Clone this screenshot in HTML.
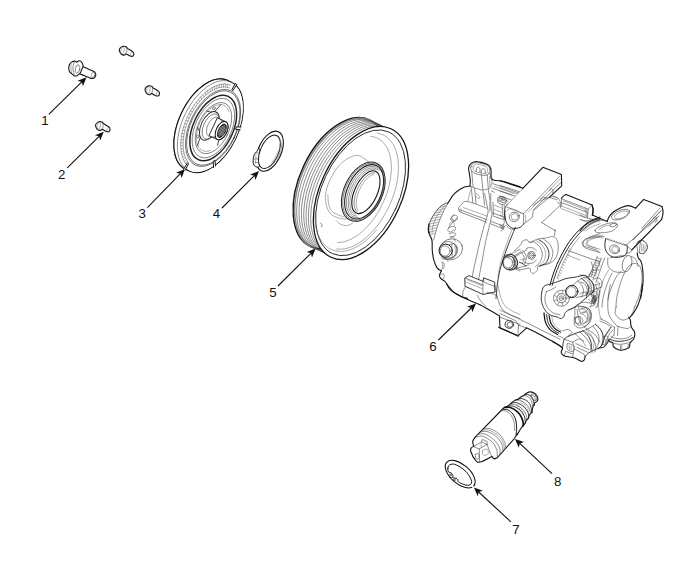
<!DOCTYPE html>
<html><head><meta charset="utf-8">
<style>
html,body{margin:0;padding:0;background:#fff;}
body{width:700px;height:583px;overflow:hidden;font-family:"Liberation Sans",sans-serif;}
svg{display:block;}
.o{fill:none;stroke:#151515;stroke-width:1.1;stroke-linecap:round;stroke-linejoin:round;}
.of{fill:#fff;stroke:#151515;stroke-width:1.1;stroke-linecap:round;stroke-linejoin:round;}
.i{fill:none;stroke:#484848;stroke-width:.62;stroke-linecap:round;stroke-linejoin:round;}
.if{fill:#fff;stroke:#484848;stroke-width:.62;stroke-linecap:round;stroke-linejoin:round;}
.t{fill:none;stroke:#666;stroke-width:.55;stroke-linecap:round;stroke-linejoin:round;}
.a{stroke:#111;stroke-width:1.1;fill:none;}
.h{fill:#111;stroke:none;}
text{font-family:"Liberation Sans",sans-serif;font-size:13.3px;fill:#111;}
</style></head><body>
<svg width="700" height="583" viewBox="0 0 700 583">
<!--LABELS-->
<g id="labels">
<text x="41.3" y="124.5">1</text>
<text x="58" y="179.4">2</text>
<text x="138.6" y="218">3</text>
<text x="212.7" y="218.4">4</text>
<text x="269.2" y="296.6">5</text>
<text x="429.2" y="351">6</text>
<text x="512.2" y="534.3">7</text>
<text x="554" y="485.6">8</text>
</g>
<!--ARROWS-->
<g id="arrows">
<line class="a" x1="48.8" y1="114.4" x2="81.8" y2="81.9"/>
<path class="h" d="M86.5 77.3L82.9 86.2L81.8 81.9L77.6 80.8Z"/>
<line class="a" x1="67.3" y1="167.8" x2="99.1" y2="136.3"/>
<path class="h" d="M103.8 131.7L100.2 140.6L99.1 136.3L94.9 135.2Z"/>
<line class="a" x1="147.4" y1="207.6" x2="180.4" y2="173.7"/>
<path class="h" d="M185.0 169.0L181.6 178.0L180.4 173.7L176.1 172.7Z"/>
<line class="a" x1="222.0" y1="208.0" x2="254.3" y2="175.7"/>
<path class="h" d="M259.0 171.0L255.5 179.9L254.3 175.7L250.1 174.5Z"/>
<line class="a" x1="278.0" y1="286.0" x2="310.9" y2="253.3"/>
<path class="h" d="M315.6 248.6L312.0 257.5L310.9 253.3L306.7 252.1Z"/>
<line class="a" x1="438.4" y1="340.0" x2="471.3" y2="308.0"/>
<path class="h" d="M476.0 303.4L472.3 312.3L471.3 308.0L467.0 306.8Z"/>
<line class="a" x1="510.8" y1="521.8" x2="478.7" y2="492.0"/>
<path class="h" d="M473.9 487.5L482.9 490.7L478.7 492.0L477.8 496.3Z"/>
<line class="a" x1="552.0" y1="473.6" x2="519.8" y2="443.4"/>
<path class="h" d="M515.0 438.9L524.0 442.1L519.8 443.4L518.8 447.7Z"/>
</g>
<!--PARTS-->
<!-- bolt1 -->
<path class="of" d="M82.9 66.5C83.9 67 87 68.4 88.8 69.2C90.6 70 92.8 70.8 93.9 71.4C95 72.1 95.1 72.3 95.4 73C95.7 73.7 95.9 74.7 95.7 75.5C95.4 76.4 94.6 77.6 93.9 78.1C93.1 78.5 92.8 78.7 91.3 78.4C89.9 78.1 87.3 76.8 85.2 76C83.1 75.2 79.9 74 78.9 73.6"/>
<ellipse class="t" cx="93" cy="75" rx="1.6" ry="2.9" transform="rotate(20 93 75)"/>
<path class="of" d="M68.8 68.7C68.7 67.5 68.8 66.2 69.2 65.1C69.7 64 70.6 62.7 71.5 62.1C72.5 61.4 73.9 61.1 74.8 61.1C75.6 61.1 76 62.1 76.7 62.1C77.4 62 78.1 60.8 78.9 60.8C79.7 60.8 80.9 61.3 81.6 62.1C82.3 62.8 82.7 64.2 82.9 65.1C83.1 66 83 66.8 82.8 67.6C82.6 68.4 82 68.9 81.6 69.8C81.2 70.6 81 71.9 80.5 72.7C80.1 73.4 79.4 73.6 78.9 74.1C78.3 74.6 77.9 75.4 77.1 75.7C76.4 76 75.3 76.2 74.4 75.9C73.5 75.6 72.7 74.5 71.9 73.9C71.1 73.2 70.2 72.8 69.7 71.9C69.2 71.1 68.9 69.8 68.8 68.7Z"/>
<ellipse class="i" cx="77.5" cy="69" rx="2.2" ry="4.2" transform="rotate(12 77.5 69)"/>
<path class="i" d="M74.8 61.5C74.5 62.1 73.6 63.8 73.3 65.1C73 66.4 72.8 67.7 73 69.4C73.1 71.1 74.2 74.5 74.4 75.5"/>
<path class="t" d="M71.5 62.2C71.4 62.9 70.8 64.8 70.8 66.5C70.8 68.2 71.4 71.3 71.5 72.3"/>
<!-- small bolt -->
<path class="of" d="M119.4 50.8C119.1 49.7 119.5 48.9 120.1 48.1C120.7 47.4 121.8 46.5 122.8 46.3C123.8 46.1 125.2 46.4 126 46.7C126.8 47.1 126.5 47.5 127.6 48.4C128.8 49.2 131.9 50.9 132.9 51.8C133.9 52.7 133.9 53.2 133.8 54C133.8 54.8 133.2 56 132.6 56.3C132 56.7 131.3 56.5 130.2 56.1C129.1 55.7 126.9 54.2 126 54C125.1 53.8 125.4 54.9 124.7 55C124 55.1 122.6 55.2 121.7 54.5C120.8 53.8 119.7 51.9 119.4 50.8Z"/>
<path class="i" d="M126.1 47.3C126.2 47.3 126.4 47.5 126.5 47.6C126.6 47.8 126.7 47.9 126.7 48.1C126.8 48.3 126.9 48.5 126.9 48.8C127 49 127 49.2 127 49.5C127 49.8 127 50 126.9 50.3C126.9 50.6 126.9 50.9 126.8 51.2C126.7 51.4 126.7 51.7 126.6 52C126.5 52.2 126.4 52.5 126.2 52.8C126.1 53 126 53.2 125.8 53.4C125.7 53.6 125.5 53.8 125.4 54C125.2 54.2 125.1 54.3 124.9 54.4C124.8 54.5 124.6 54.6 124.4 54.6C124.3 54.7 124.1 54.7 124 54.7C123.8 54.7 123.7 54.6 123.6 54.6C123.4 54.5 123.3 54.3 123.2 54.3"/>
<path class="t" d="M124.1 50.9C124.1 51 124 51.4 123.9 51.6C123.9 51.8 123.8 52 123.7 52.2C123.6 52.4 123.5 52.5 123.3 52.7C123.2 52.9 123.1 53 123 53.1C122.9 53.3 122.8 53.4 122.6 53.5C122.5 53.6 122.4 53.6 122.3 53.7C122.1 53.7 122 53.7 121.9 53.7C121.8 53.7 121.7 53.7 121.6 53.6C121.5 53.6 121.4 53.5 121.3 53.4C121.2 53.3 121.2 53.2 121.1 53.1C121 52.9 121 52.8 120.9 52.6C120.9 52.4 120.9 52.2 120.8 52C120.8 51.8 120.8 51.6 120.8 51.4C120.9 51.2 120.9 51 120.9 50.8C120.9 50.5 121 50.3 121.1 50.1C121.1 49.9 121.2 49.6 121.3 49.4C121.3 49.2 121.4 49 121.5 48.8C121.6 48.6 121.7 48.5 121.9 48.3C122 48.1 122.1 48 122.2 47.9C122.3 47.7 122.4 47.6 122.6 47.5C122.7 47.4 122.8 47.4 122.9 47.3C123.1 47.3 123.2 47.3 123.3 47.3C123.4 47.3 123.5 47.3 123.6 47.4C123.7 47.4 123.8 47.5 123.9 47.6C124 47.7 124 47.8 124.1 47.9C124.2 48.1 124.2 48.2 124.3 48.4C124.3 48.6 124.3 48.8 124.4 49C124.4 49.2 124.4 49.4 124.4 49.6C124.3 49.8 124.3 50 124.3 50.2C124.3 50.5 124.2 50.8 124.1 50.9"/>
<path class="t" d="M131.1 55.8C131.1 55.8 131 55.7 130.9 55.7C130.9 55.6 130.8 55.6 130.8 55.5C130.8 55.4 130.7 55.3 130.7 55.2C130.7 55.1 130.7 55 130.6 54.9C130.6 54.8 130.6 54.7 130.6 54.5C130.7 54.4 130.7 54.3 130.7 54.2C130.7 54 130.8 53.9 130.8 53.8C130.8 53.6 130.9 53.5 130.9 53.4C131 53.2 131.1 53.1 131.1 53C131.2 52.9 131.3 52.8 131.3 52.7C131.4 52.6 131.5 52.5 131.6 52.4C131.6 52.3 131.7 52.2 131.8 52.2C131.9 52.1 132 52.1 132 52C132.1 52 132.2 52 132.3 52C132.3 52 132.4 52 132.5 52"/>
<!-- small bolt -->
<path class="of" d="M145.1 90.4C144.8 89.3 145.2 88.5 145.8 87.7C146.4 87 147.5 86.1 148.5 85.9C149.5 85.7 150.9 86 151.7 86.3C152.5 86.6 152.2 87.2 153.3 88C154.5 88.8 157.6 90.5 158.6 91.4C159.6 92.3 159.6 92.9 159.5 93.6C159.4 94.4 158.9 95.6 158.3 95.9C157.7 96.2 157 96.1 155.9 95.7C154.8 95.3 152.6 93.8 151.7 93.6C150.8 93.4 151.1 94.5 150.4 94.6C149.7 94.7 148.3 94.8 147.4 94.1C146.5 93.4 145.4 91.5 145.1 90.4Z"/>
<path class="i" d="M151.8 86.9C151.9 86.9 152.1 87.1 152.2 87.2C152.3 87.4 152.4 87.5 152.4 87.7C152.5 87.9 152.6 88.1 152.6 88.4C152.7 88.6 152.7 88.8 152.7 89.1C152.7 89.4 152.7 89.6 152.6 89.9C152.6 90.2 152.6 90.5 152.5 90.8C152.4 91 152.4 91.3 152.3 91.6C152.2 91.8 152.1 92.1 151.9 92.4C151.8 92.6 151.7 92.8 151.5 93C151.4 93.2 151.2 93.4 151.1 93.6C150.9 93.8 150.8 93.9 150.6 94C150.5 94.1 150.3 94.2 150.1 94.2C150 94.3 149.8 94.3 149.7 94.3C149.5 94.3 149.4 94.2 149.3 94.2C149.1 94.1 149 93.9 148.9 93.9"/>
<path class="t" d="M149.8 90.5C149.8 90.6 149.7 91 149.6 91.2C149.6 91.4 149.5 91.6 149.4 91.8C149.3 92 149.2 92.1 149 92.3C148.9 92.5 148.8 92.6 148.7 92.7C148.6 92.9 148.5 93 148.3 93.1C148.2 93.2 148.1 93.2 148 93.3C147.8 93.3 147.7 93.3 147.6 93.3C147.5 93.3 147.4 93.3 147.3 93.2C147.2 93.2 147.1 93.1 147 93C146.9 92.9 146.9 92.8 146.8 92.7C146.7 92.5 146.7 92.4 146.6 92.2C146.6 92 146.6 91.8 146.5 91.6C146.5 91.4 146.5 91.2 146.5 91C146.6 90.8 146.6 90.6 146.6 90.4C146.6 90.1 146.7 89.9 146.8 89.7C146.8 89.5 146.9 89.2 147 89C147 88.8 147.1 88.6 147.2 88.4C147.3 88.2 147.4 88.1 147.6 87.9C147.7 87.7 147.8 87.6 147.9 87.5C148 87.3 148.1 87.2 148.3 87.1C148.4 87 148.5 87 148.6 86.9C148.8 86.9 148.9 86.9 149 86.9C149.1 86.9 149.2 86.9 149.3 87C149.4 87 149.5 87.1 149.6 87.2C149.7 87.3 149.7 87.4 149.8 87.5C149.9 87.7 149.9 87.8 150 88C150 88.2 150 88.4 150.1 88.6C150.1 88.8 150.1 89 150.1 89.2C150 89.4 150 89.6 150 89.8C150 90.1 149.9 90.4 149.8 90.5"/>
<path class="t" d="M156.8 95.4C156.8 95.4 156.7 95.3 156.6 95.3C156.6 95.2 156.5 95.2 156.5 95.1C156.5 95 156.4 94.9 156.4 94.8C156.4 94.7 156.4 94.6 156.3 94.5C156.3 94.4 156.3 94.3 156.3 94.1C156.4 94 156.4 93.9 156.4 93.8C156.4 93.6 156.5 93.5 156.5 93.4C156.5 93.2 156.6 93.1 156.6 93C156.7 92.8 156.8 92.7 156.8 92.6C156.9 92.5 157 92.4 157 92.3C157.1 92.2 157.2 92.1 157.3 92C157.3 91.9 157.4 91.8 157.5 91.8C157.6 91.7 157.7 91.7 157.7 91.6C157.8 91.6 157.9 91.6 158 91.6C158 91.6 158.1 91.6 158.2 91.6"/>
<!-- small bolt -->
<path class="of" d="M95.6 126.2C95.3 125.1 95.7 124.2 96.3 123.5C96.9 122.8 98 121.9 99 121.7C100 121.5 101.4 121.8 102.2 122.1C103 122.4 102.7 122.9 103.8 123.8C105 124.7 108.1 126.3 109.1 127.2C110.1 128.1 110 128.7 110 129.4C110 130.2 109.4 131.3 108.8 131.7C108.2 132 107.5 131.9 106.4 131.5C105.3 131.1 103.1 129.6 102.2 129.4C101.3 129.2 101.6 130.3 100.9 130.4C100.2 130.5 98.8 130.6 97.9 129.9C97 129.2 95.9 127.3 95.6 126.2Z"/>
<path class="i" d="M102.3 122.7C102.4 122.7 102.6 122.9 102.7 123C102.8 123.2 102.9 123.3 102.9 123.5C103 123.7 103.1 123.9 103.1 124.2C103.2 124.4 103.2 124.6 103.2 124.9C103.2 125.2 103.2 125.4 103.1 125.7C103.1 126 103.1 126.3 103 126.6C102.9 126.8 102.9 127.1 102.8 127.4C102.7 127.6 102.6 127.9 102.4 128.2C102.3 128.4 102.2 128.6 102 128.8C101.9 129 101.7 129.2 101.6 129.4C101.4 129.6 101.3 129.7 101.1 129.8C101 129.9 100.8 130 100.6 130C100.5 130.1 100.3 130.1 100.2 130.1C100 130.1 99.9 130 99.8 130C99.6 129.9 99.5 129.7 99.4 129.7"/>
<path class="t" d="M100.3 126.3C100.3 126.4 100.2 126.8 100.1 127C100.1 127.2 100 127.4 99.9 127.6C99.8 127.8 99.7 127.9 99.5 128.1C99.4 128.3 99.3 128.4 99.2 128.5C99.1 128.7 99 128.8 98.8 128.9C98.7 129 98.6 129 98.5 129.1C98.3 129.1 98.2 129.1 98.1 129.1C98 129.1 97.9 129.1 97.8 129C97.7 129 97.6 128.9 97.5 128.8C97.4 128.7 97.4 128.6 97.3 128.5C97.2 128.3 97.2 128.2 97.1 128C97.1 127.8 97.1 127.6 97 127.4C97 127.2 97 127 97 126.8C97.1 126.6 97.1 126.4 97.1 126.2C97.1 125.9 97.2 125.7 97.3 125.5C97.3 125.3 97.4 125 97.5 124.8C97.5 124.6 97.6 124.4 97.7 124.2C97.8 124 97.9 123.9 98.1 123.7C98.2 123.5 98.3 123.4 98.4 123.3C98.5 123.1 98.6 123 98.8 122.9C98.9 122.8 99 122.8 99.1 122.7C99.3 122.7 99.4 122.7 99.5 122.7C99.6 122.7 99.7 122.7 99.8 122.8C99.9 122.8 100 122.9 100.1 123C100.2 123.1 100.2 123.2 100.3 123.3C100.4 123.5 100.4 123.6 100.5 123.8C100.5 124 100.5 124.2 100.6 124.4C100.6 124.6 100.6 124.8 100.6 125C100.5 125.2 100.5 125.4 100.5 125.6C100.5 125.9 100.4 126.2 100.3 126.3"/>
<path class="t" d="M107.3 131.2C107.3 131.2 107.2 131.1 107.1 131.1C107.1 131 107 131 107 130.9C107 130.8 106.9 130.7 106.9 130.6C106.9 130.5 106.9 130.4 106.8 130.3C106.8 130.2 106.8 130.1 106.8 129.9C106.9 129.8 106.9 129.7 106.9 129.6C106.9 129.4 107 129.3 107 129.2C107 129 107.1 128.9 107.1 128.8C107.2 128.6 107.3 128.5 107.3 128.4C107.4 128.3 107.5 128.2 107.5 128.1C107.6 128 107.7 127.9 107.8 127.8C107.8 127.7 107.9 127.6 108 127.6C108.1 127.5 108.2 127.5 108.2 127.4C108.3 127.4 108.4 127.4 108.5 127.4C108.5 127.4 108.6 127.4 108.7 127.4"/>
<!-- disc -->
<ellipse class="of" cx="206.9" cy="125" rx="28.1" ry="49.2" transform="rotate(25.4 206.9 125)"/>
<ellipse class="of" cx="210.3" cy="126.6" rx="28.1" ry="49.2" transform="rotate(25.4 210.3 126.6)"/>
<path class="of" d="M183.6 168.3C182.9 167.5 180.5 165.7 179.3 164C178 162.3 176.9 160.3 176.1 158.1C175.3 155.8 174.7 153.3 174.3 150.7C173.9 148 173.8 145.1 173.9 142.1C174 139.2 174.4 136 175 132.9C175.6 129.7 176.4 126.5 177.4 123.3C178.5 120.1 179.7 116.8 181.2 113.7C182.6 110.6 184.2 107.5 186 104.7C187.8 101.8 189.8 99 191.8 96.5C193.8 94 196 91.7 198.2 89.6C200.4 87.6 202.8 85.7 205 84.2C207.3 82.7 209.7 81.5 211.9 80.6C214.2 79.8 216.5 79.2 218.6 79C220.7 78.8 222.8 78.9 224.8 79.4C226.7 79.8 229.2 81.3 230.1 81.7"/>
<path d="M235.3 138.5C234.7 139.6 233 143 231.7 145.2C230.5 147.3 229.1 149.4 227.6 151.4C226.2 153.4 224.7 155.3 223.1 157.1C221.6 158.8 219.9 160.5 218.3 162C216.6 163.4 215 164.8 213.3 166C211.6 167.2 209.9 168.2 208.2 169C206.5 169.9 204.8 170.5 203.1 171C201.5 171.5 199.8 171.8 198.2 171.9C196.7 172.1 195.1 172 193.7 171.7C192.2 171.5 190.8 171 189.5 170.4C188.2 169.8 187 169 185.9 168C184.7 167.1 183.7 165.9 182.8 164.6C181.9 163.3 181.1 161.9 180.4 160.3C179.8 158.7 179.2 156.9 178.8 155.1C178.4 153.2 178.1 151.3 177.9 149.2C177.8 147.2 177.8 145 177.9 142.8C178 140.6 178.2 138.3 178.6 135.9C179 133.6 179.5 131.2 180.1 128.9C180.8 126.5 181.5 124.1 182.4 121.8C183.3 119.4 184.3 117 185.3 114.8C186.4 112.5 187.6 110.2 188.9 108C190.2 105.9 191.6 103.8 193 101.8C194.4 99.8 196 97.9 197.5 96.2C199.1 94.4 200.7 92.8 202.3 91.3C204 89.8 205.7 88.4 207.4 87.3C209.1 86.1 210.8 85 212.5 84.2C214.2 83.4 215.9 82.7 217.5 82.2C219.2 81.7 220.8 81.4 222.4 81.3C224 81.2 225.5 81.2 227 81.5C228.4 81.7 229.8 82.2 231.1 82.8C232.4 83.4 233.7 84.2 234.8 85.2C235.9 86.2 236.9 87.3 237.8 88.6C238.7 89.9 239.5 91.4 240.2 93C240.9 94.5 241.4 96.3 241.8 98.1C242.2 100 242.5 102 242.7 104C242.8 106.1 242.9 108.2 242.7 110.5C242.6 112.7 242.4 115 242 117.3C241.6 119.6 241.1 122 240.5 124.4C239.9 126.7 239.1 129.1 238.2 131.5C237.4 133.8 235.8 137.3 235.3 138.5C234.8 139.6 235.9 137.4 235.3 138.5Z" fill="#fff" stroke="none"/>
<path class="i" d="M188.3 170.7C187.5 170 185 168.4 183.7 166.9C182.3 165.3 181.2 163.4 180.2 161.3C179.3 159.2 178.5 156.8 178.1 154.3C177.6 151.7 177.3 148.9 177.3 146C177.3 143.1 177.5 140 178 136.9C178.5 133.8 179.2 130.5 180.1 127.3C181 124.1 182.2 120.8 183.5 117.7C184.9 114.6 186.4 111.4 188.1 108.5C189.8 105.6 191.7 102.7 193.7 100.1C195.7 97.5 197.8 95 200 92.8C202.2 90.7 204.5 88.7 206.7 87C209 85.4 211.4 84 213.6 83C215.9 82 218.2 81.2 220.4 80.9C222.6 80.5 224.7 80.4 226.7 80.7C228.7 81 231.4 82.3 232.3 82.6"/>
<path class="t" d="M186.3 164.7C185.8 163.8 183.9 161.2 183.1 159.1C182.2 157 181.6 154.5 181.2 151.9C180.8 149.4 180.6 146.5 180.7 143.6C180.8 140.7 181.1 137.6 181.7 134.6C182.3 131.5 183.1 128.2 184.2 125.1C185.2 122 186.5 118.8 187.9 115.8C189.4 112.8 191 109.8 192.8 107C194.6 104.2 196.6 101.6 198.6 99.2C200.7 96.8 202.8 94.6 205 92.7C207.2 90.8 209.5 89.2 211.8 87.9C214 86.6 216.3 85.6 218.5 84.9C220.7 84.3 222.9 83.9 224.9 84C226.9 84 229.7 84.9 230.7 85.1"/>
<path class="t" d="M188.3 162.4C187.8 161.6 186.1 159.2 185.3 157.2C184.5 155.2 183.9 152.9 183.5 150.5C183.1 148.1 183 145.5 183.1 142.7C183.2 140 183.5 137.1 184 134.3C184.6 131.4 185.4 128.4 186.3 125.4C187.3 122.5 188.5 119.5 189.8 116.7C191.2 113.9 192.7 111.1 194.4 108.5C196.1 105.9 197.9 103.4 199.8 101.2C201.7 98.9 203.8 96.9 205.8 95.1C207.9 93.3 210 91.8 212.1 90.6C214.2 89.4 216.4 88.4 218.4 87.8C220.5 87.2 222.5 86.9 224.4 87C226.3 87 228.9 87.8 229.8 88"/>
<path class="t" d="M187.5 161.3L185.4 163.5"/>
<path class="t" d="M186.4 159.5L184.3 161.6"/>
<path class="t" d="M185.4 157.5L183.2 159.5"/>
<path class="t" d="M184.6 155.4L182.4 157.1"/>
<path class="t" d="M184 153L181.7 154.6"/>
<path class="t" d="M183.5 150.6L181.2 152"/>
<path class="t" d="M183.2 147.9L180.8 149.2"/>
<path class="t" d="M183.1 145.2L180.7 146.3"/>
<path class="t" d="M183.1 142.4L180.7 143.2"/>
<path class="t" d="M183.3 139.4L180.9 140.1"/>
<path class="t" d="M183.7 136.4L181.3 136.9"/>
<path class="t" d="M184.2 133.4L181.9 133.6"/>
<path class="t" d="M184.9 130.3L182.7 130.3"/>
<path class="t" d="M185.8 127.2L183.6 127"/>
<path class="t" d="M186.8 124.1L184.7 123.7"/>
<path class="t" d="M187.9 121L185.9 120.4"/>
<path class="t" d="M189.3 118L187.3 117.1"/>
<path class="t" d="M190.7 115L188.9 113.9"/>
<path class="t" d="M192.3 112L190.5 110.8"/>
<path class="t" d="M193.9 109.2L192.3 107.8"/>
<path class="t" d="M195.7 106.5L194.2 104.9"/>
<path class="t" d="M197.6 103.9L196.3 102.1"/>
<path class="t" d="M199.6 101.4L198.4 99.5"/>
<path class="t" d="M201.6 99.1L200.6 97"/>
<path class="t" d="M203.8 97L202.8 94.7"/>
<path class="t" d="M205.9 95L205.1 92.6"/>
<path class="t" d="M208.1 93.3L207.5 90.7"/>
<path class="t" d="M210.3 91.7L209.8 89.1"/>
<path class="t" d="M212.5 90.4L212.2 87.6"/>
<path class="t" d="M214.8 89.2L214.6 86.4"/>
<path class="t" d="M217 88.3L216.9 85.4"/>
<path class="t" d="M219.1 87.6L219.3 84.7"/>
<path class="t" d="M221.3 87.2L221.6 84.2"/>
<path class="t" d="M223.4 87L223.8 84"/>
<path class="t" d="M225.4 87L225.9 84"/>
<path class="t" d="M227.3 87.3L228 84.3"/>
<ellipse class="i" cx="213.1" cy="127.9" rx="23.5" ry="41.2" transform="rotate(25.4 213.1 127.9)" style="stroke:#333"/>
<ellipse class="i" cx="213.3" cy="128" rx="22.7" ry="39.8" transform="rotate(25.4 213.3 128)" style="stroke:#333"/>
<ellipse class="o" cx="213.2" cy="128" rx="19.9" ry="35" transform="rotate(25.4 213.2 128)" style="stroke-width:1.5;stroke:#222"/>
<ellipse class="i" cx="213.4" cy="128.1" rx="18.1" ry="31.8" transform="rotate(25.4 213.4 128.1)"/>
<ellipse class="i" cx="213.5" cy="128.1" rx="15.5" ry="27.3" transform="rotate(25.4 213.5 128.1)"/>
<path class="t" d="M210.3 150.6C209.7 150.7 208 151.2 206.9 151.3C205.8 151.4 204.8 151.3 203.8 151C202.8 150.8 201.9 150.4 201.1 149.8C200.3 149.2 199.6 148.4 198.9 147.5C198.3 146.6 197.8 145.6 197.4 144.4C197 143.3 196.7 142 196.5 140.6C196.4 139.3 196.3 137.8 196.4 136.3C196.5 134.8 196.7 133.1 197 131.5C197.3 129.9 197.8 128.3 198.3 126.7C198.8 125 199.5 123.4 200.2 121.8C201 120.3 201.8 118.7 202.8 117.3C203.7 115.8 204.7 114.4 205.7 113.2C206.8 111.9 207.9 110.7 209 109.7C210.1 108.7 211.3 107.8 212.5 107.1C213.6 106.3 214.8 105.7 216 105.3C217.1 104.9 218.3 104.7 219.3 104.6C220.4 104.5 221.5 104.6 222.4 104.8C223.4 105.1 224.3 105.5 225.1 106.1C225.9 106.7 226.7 107.5 227.3 108.4C227.9 109.2 228.6 110.9 228.8 111.4"/>
<path class="of" d="M235.5 83.3L231.8 89.7L232.9 90.7L236.8 84.4" style="stroke-width:1"/>
<path class="of" d="M241 127L236.4 126.9L235.6 129.3L240.1 129.8" style="stroke-width:1"/>
<path class="of" d="M215.6 166L214.8 160.1L213.1 161.4L213.6 167.5" style="stroke-width:1"/>
<path class="of" d="M185.1 170.3L188.6 163.7L187.5 162.8L183.7 169.2" style="stroke-width:1"/>
<path class="i" d="M206.9 111.1L213.6 112.8L221 104.4" style="stroke:#222;stroke-width:.8"/>
<ellipse class="i" cx="213.9" cy="108.4" rx="1.2" ry="1.6" transform="rotate(25.4 213.9 108.4)"/>
<path class="i" d="M197.5 145.6L201.3 134.4L197.5 127.7" style="stroke:#222;stroke-width:.8"/>
<ellipse class="i" cx="197.9" cy="136.4" rx="1.2" ry="1.6" transform="rotate(25.4 197.9 136.4)"/>
<path class="i" d="M228.1 127L220.3 134L217.6 145.2" style="stroke:#222;stroke-width:.8"/>
<ellipse class="i" cx="222.6" cy="135.8" rx="1.2" ry="1.6" transform="rotate(25.4 222.6 135.8)"/>
<ellipse class="if" cx="209.4" cy="125.9" rx="8.2" ry="15.4" transform="rotate(25.4 209.4 125.9)" style="stroke:#222;stroke-width:.9"/>
<ellipse class="i" cx="210.8" cy="126.6" rx="7.2" ry="13.6" transform="rotate(25.4 210.8 126.6)"/>
<path class="of" d="M217.7 118L225.8 121.7L225.8 121.7L226.9 122.6L227.7 124.1L228 126L227.9 128.2L227.4 130.5L226.5 132.9L225.2 135.1L223.7 137L222.1 138.5L220.4 139.4L218.8 139.8L217.4 139.5L217.4 139.5L209.3 135.8Z" style="stroke-width:.9"/>
<path class="i" d="M219.8 118.9C220 119.1 220.5 119.3 220.7 119.6C221 119.9 221.2 120.3 221.4 120.7C221.6 121.1 221.8 121.5 221.9 122C222 122.5 222 123 222 123.6C222 124.2 222 124.8 221.9 125.4C221.8 126 221.7 126.6 221.5 127.3C221.4 127.9 221.1 128.6 220.9 129.2C220.6 129.8 220.3 130.4 220 131C219.7 131.6 219.3 132.2 218.9 132.7C218.6 133.3 218.1 133.8 217.7 134.2C217.3 134.7 216.9 135.1 216.4 135.4C216 135.8 215.5 136.1 215.1 136.3C214.6 136.6 214.2 136.7 213.7 136.8C213.3 136.9 212.9 137 212.5 136.9C212.1 136.9 211.6 136.7 211.4 136.7"/>
<path class="i" d="M221.2 119.6C221.4 119.8 221.9 120 222.1 120.3C222.4 120.6 222.6 121 222.8 121.4C223 121.8 223.2 122.2 223.3 122.7C223.4 123.2 223.4 123.7 223.4 124.3C223.4 124.9 223.4 125.5 223.3 126.1C223.2 126.7 223.1 127.3 222.9 128C222.8 128.6 222.5 129.3 222.3 129.9C222 130.5 221.7 131.1 221.4 131.7C221.1 132.3 220.7 132.9 220.3 133.4C220 134 219.5 134.5 219.1 134.9C218.7 135.4 218.3 135.8 217.8 136.1C217.4 136.5 216.9 136.8 216.5 137C216 137.3 215.6 137.4 215.1 137.5C214.7 137.6 214.3 137.7 213.9 137.6C213.5 137.6 213 137.4 212.8 137.4"/>
<path class="i" d="M209 136.5C208.8 136.4 208.2 136 207.9 135.7C207.6 135.4 207.4 135 207.2 134.6C207 134.2 206.8 133.7 206.7 133.2C206.6 132.6 206.5 132 206.5 131.4C206.5 130.8 206.5 130.2 206.6 129.5C206.7 128.8 206.8 128.1 207 127.5C207.2 126.8 207.4 126.1 207.7 125.4C208 124.7 208.3 124 208.7 123.4C209 122.7 209.4 122.1 209.8 121.5C210.3 121 210.7 120.4 211.2 119.9C211.6 119.4 212.1 119 212.6 118.6C213.1 118.2 213.6 117.9 214 117.7C214.5 117.4 215 117.2 215.5 117.1C216 117 216.4 117 216.8 117C217.3 117 217.8 117.3 218 117.3"/>
<ellipse class="of" cx="221.6" cy="130.6" rx="5.4" ry="9.8" transform="rotate(25.4 221.6 130.6)" style="stroke-width:1"/>
<ellipse class="of" cx="221.9" cy="130.8" rx="3.5" ry="7.3" transform="rotate(25.4 221.9 130.8)" style="fill:#2a2a2a;stroke-width:.8"/>
<path d="M221.3 126.3L218.1 133.2" stroke="#e8e8e8" stroke-width=".5" fill="none"/>
<path d="M223 125.6L218.6 135" stroke="#e8e8e8" stroke-width=".5" fill="none"/>
<path d="M224.7 124.8L219.1 136.8" stroke="#e8e8e8" stroke-width=".5" fill="none"/>
<path d="M225.2 126.6L220.8 136" stroke="#e8e8e8" stroke-width=".5" fill="none"/>
<path d="M225.7 128.4L222.5 135.3" stroke="#e8e8e8" stroke-width=".5" fill="none"/>
<!-- snapring -->
<ellipse class="of" cx="269.8" cy="151.2" rx="11.5" ry="21.3" transform="rotate(23.7 269.8 151.2)"/>
<path class="of" d="M258.7 148.3C258.2 148.5 257.4 150.6 256.7 151.6C255.9 152.6 255 153 254.4 154.3C253.9 155.6 253.3 157.5 253.2 159.3C253.1 161.1 253.1 163.8 253.9 165.1C254.7 166.5 256.9 167.2 257.9 167.2C258.8 167.2 259.5 166.9 259.8 165.3C260 163.7 259.4 160 259.4 157.6C259.5 155.2 260.1 152.3 260 150.7C259.9 149.2 259.3 148.2 258.7 148.3Z" style="stroke-width:1"/>
<ellipse class="of" cx="269.4" cy="151.8" rx="9.1" ry="17.8" transform="rotate(23.5 269.4 151.8)" style="stroke-width:.9"/>
<path class="i" d="M256.1 153.3C256.4 153.2 257.4 152.5 257.9 152.6C258.3 152.8 258.6 153.9 258.7 154.2"/>
<path class="i" d="M254.6 159.3C255 159.2 256.4 158.5 257 158.6C257.6 158.8 258.2 159.9 258.4 160.2"/>
<path class="i" d="M255.1 162.7C255.5 162.7 256.6 162.2 257.2 162.4C257.8 162.5 258.3 163.4 258.6 163.6"/>
<path class="t" d="M256 155L255.5 162.7"/>
<path class="t" d="M278.6 150.7L279.6 151.1"/>
<path class="t" d="M277.8 152.1L278.9 152.4"/>
<path class="t" d="M277.1 153.5L278.1 153.8"/>
<path class="t" d="M276.3 154.8L277.3 155.2"/>
<path class="t" d="M275.5 156.2L276.6 156.6"/>
<path class="t" d="M274.8 157.6L275.8 157.9"/>
<path class="t" d="M274 159L275 159.3"/>
<path class="t" d="M273.2 160.3L274.2 160.7"/>
<path class="t" d="M272.4 161.7L273.5 162"/>
<path class="t" d="M271.7 163.1L272.7 163.4"/>
<path class="t" d="M279 137C279.3 137.9 280.6 140.3 281 142.2C281.4 144 281.6 146 281.4 148.2C281.1 150.3 280.4 152.7 279.3 155C278.2 157.3 276.6 159.9 275 161.9C273.4 163.9 270.7 166.2 269.9 167"/>
<!-- pulley -->
<ellipse class="of" cx="340" cy="183.2" rx="40.2" ry="69.8" transform="rotate(25 340 183.2)" style="stroke-width:1.5"/>
<path class="t" d="M315.2 248.4C313.9 247.8 309.8 246.3 307.5 244.5C305.2 242.7 303.1 240.4 301.4 237.8C299.7 235.1 298.2 232 297.1 228.6C296 225.2 295.3 221.4 294.9 217.4C294.5 213.4 294.4 209 294.8 204.6C295.1 200.2 295.8 195.5 296.8 190.8C297.8 186.2 299.2 181.4 300.9 176.8C302.6 172.2 304.6 167.5 306.9 163.1C309.1 158.6 311.7 154.3 314.4 150.3C317.1 146.3 320.1 142.5 323.2 139.1C326.3 135.7 329.6 132.5 332.8 129.9C336.1 127.3 339.5 125 342.9 123.2C346.2 121.4 349.6 120.1 352.8 119.3C356.1 118.5 359.3 118.2 362.3 118.4C365.2 118.6 368.1 119.3 370.7 120.5C373.3 121.7 376.7 124.7 377.9 125.5" style="stroke:#888;stroke-width:1.6"/>
<path class="i" d="M320.8 250.1C319.4 249.7 315.2 248.8 312.7 247.5C310.2 246.1 308 244.3 306 242.1C304 239.9 302.3 237.2 301 234.2C299.6 231.1 298.5 227.7 297.8 224C297.1 220.4 296.7 216.4 296.6 212.2C296.6 208.1 296.9 203.6 297.5 199.2C298.2 194.7 299.2 190.1 300.5 185.5C301.8 180.9 303.4 176.3 305.3 171.8C307.2 167.3 309.5 162.8 311.9 158.7C314.3 154.5 317 150.4 319.8 146.7C322.6 143 325.7 139.5 328.8 136.4C331.9 133.3 335.1 130.5 338.4 128.2C341.6 125.9 345 124 348.2 122.6C351.5 121.2 354.8 120.2 357.9 119.7C361 119.2 364 119.2 366.9 119.7C369.7 120.1 372.4 121.1 374.9 122.5C377.3 123.9 380.3 127.2 381.4 128.1" style="stroke:#484848;stroke-width:.64"/>
<path class="i" d="M323.1 251.2C321.8 250.8 317.5 249.9 315.1 248.6C312.6 247.2 310.3 245.4 308.4 243.2C306.4 241 304.7 238.3 303.3 235.3C301.9 232.2 300.9 228.8 300.1 225.1C299.4 221.5 299 217.5 299 213.3C298.9 209.2 299.3 204.7 299.9 200.3C300.5 195.8 301.6 191.2 302.9 186.6C304.1 182 305.8 177.4 307.7 172.9C309.6 168.4 311.8 163.9 314.2 159.8C316.6 155.6 319.3 151.5 322.1 147.8C325 144.1 328 140.6 331.1 137.5C334.2 134.4 337.5 131.6 340.7 129.3C344 127 347.3 125.1 350.6 123.7C353.8 122.3 357.1 121.3 360.2 120.8C363.3 120.3 366.4 120.3 369.2 120.8C372.1 121.2 374.8 122.2 377.2 123.6C379.6 125 382.7 128.3 383.8 129.2" style="stroke:#484848;stroke-width:.64"/>
<path class="i" d="M325.5 252.3C324.2 251.9 319.9 251 317.5 249.7C315 248.4 312.7 246.5 310.8 244.3C308.8 242.1 307.1 239.4 305.7 236.4C304.3 233.4 303.3 229.9 302.5 226.3C301.8 222.6 301.4 218.6 301.4 214.4C301.4 210.3 301.7 205.8 302.3 201.4C303 196.9 304 192.3 305.3 187.7C306.6 183.1 308.2 178.5 310.1 174C312 169.5 314.2 165.1 316.6 160.9C319 156.7 321.7 152.6 324.5 148.9C327.4 145.2 330.4 141.7 333.5 138.6C336.6 135.5 339.9 132.8 343.1 130.5C346.4 128.2 349.7 126.2 353 124.8C356.2 123.4 359.5 122.4 362.6 121.9C365.7 121.4 368.8 121.4 371.6 121.9C374.5 122.3 377.2 123.3 379.6 124.7C382 126.1 385.1 129.4 386.2 130.3" style="stroke:#484848;stroke-width:.64"/>
<path class="i" d="M327.9 253.4C326.5 253 322.3 252.1 319.8 250.8C317.4 249.5 315.1 247.6 313.1 245.4C311.2 243.2 309.4 240.5 308.1 237.5C306.7 234.5 305.6 231 304.9 227.4C304.2 223.7 303.8 219.7 303.7 215.5C303.7 211.4 304 206.9 304.7 202.5C305.3 198 306.3 193.4 307.6 188.8C308.9 184.2 310.6 179.6 312.5 175.1C314.3 170.6 316.6 166.2 319 162C321.4 157.8 324.1 153.7 326.9 150C329.7 146.3 332.8 142.8 335.9 139.7C339 136.6 342.3 133.9 345.5 131.6C348.7 129.3 352.1 127.3 355.3 125.9C358.6 124.5 361.9 123.5 365 123C368.1 122.5 371.2 122.5 374 123C376.8 123.4 379.5 124.4 382 125.8C384.4 127.2 387.5 130.5 388.6 131.4" style="stroke:#484848;stroke-width:.64"/>
<path class="i" d="M330.1 254.5C328.8 254.1 324.5 253.2 322.1 251.9C319.6 250.5 317.3 248.7 315.4 246.5C313.4 244.2 311.7 241.5 310.3 238.5C309 235.5 307.9 232.1 307.2 228.4C306.4 224.8 306.1 220.7 306 216.6C306 212.4 306.3 208 306.9 203.5C307.6 199.1 308.6 194.4 309.9 189.9C311.2 185.3 312.8 180.6 314.7 176.2C316.6 171.7 318.8 167.2 321.2 163C323.7 158.9 326.4 154.8 329.2 151.1C332 147.4 335 143.8 338.1 140.8C341.2 137.7 344.5 134.9 347.8 132.6C351 130.3 354.4 128.4 357.6 127C360.9 125.5 364.1 124.6 367.3 124.1C370.4 123.6 373.4 123.6 376.3 124C379.1 124.5 381.8 125.5 384.2 126.9C386.7 128.3 389.7 131.5 390.8 132.5" style="stroke:#484848;stroke-width:.64"/>
<path class="i" d="M332.5 255.6C331.2 255.2 326.9 254.3 324.4 253C322 251.6 319.7 249.8 317.7 247.6C315.8 245.3 314.1 242.6 312.7 239.6C311.3 236.6 310.2 233.2 309.5 229.5C308.8 225.9 308.4 221.8 308.4 217.7C308.3 213.5 308.6 209.1 309.3 204.6C309.9 200.2 310.9 195.5 312.2 191C313.5 186.4 315.2 181.7 317.1 177.3C319 172.8 321.2 168.3 323.6 164.1C326 159.9 328.7 155.9 331.5 152.2C334.3 148.4 337.4 144.9 340.5 141.9C343.6 138.8 346.9 136 350.1 133.7C353.4 131.4 356.7 129.5 360 128.1C363.2 126.6 366.5 125.7 369.6 125.2C372.7 124.7 375.8 124.7 378.6 125.1C381.4 125.6 384.2 126.6 386.6 128C389 129.4 392.1 132.6 393.2 133.6" style="stroke:#484848;stroke-width:.64"/>
<path class="i" d="M334.8 256.7C333.5 256.2 329.2 255.4 326.8 254C324.3 252.7 322 250.9 320.1 248.6C318.1 246.4 316.4 243.7 315 240.7C313.7 237.7 312.6 234.3 311.9 230.6C311.1 227 310.7 222.9 310.7 218.8C310.7 214.6 311 210.2 311.6 205.7C312.3 201.3 313.3 196.6 314.6 192.1C315.9 187.5 317.5 182.8 319.4 178.4C321.3 173.9 323.5 169.4 325.9 165.2C328.3 161 331 157 333.9 153.3C336.7 149.5 339.7 146 342.8 143C345.9 139.9 349.2 137.1 352.5 134.8C355.7 132.5 359.1 130.6 362.3 129.2C365.6 127.7 368.8 126.7 371.9 126.3C375.1 125.8 378.1 125.8 381 126.2C383.8 126.7 386.5 127.7 388.9 129.1C391.4 130.5 394.4 133.7 395.5 134.7" style="stroke:#484848;stroke-width:.64"/>
<ellipse class="of" cx="361" cy="193" rx="40.8" ry="70.9" transform="rotate(25 361 193)" style="stroke-width:1.3"/>
<ellipse class="i" cx="360.6" cy="192.8" rx="38.6" ry="67" transform="rotate(25 360.6 192.8)" style="stroke:#222;stroke-width:.85"/>
<path class="t" d="M370.6 136.3C371.8 136.6 375.5 137.1 377.6 138.2C379.7 139.2 381.7 140.7 383.4 142.5C385.1 144.4 386.6 146.7 387.8 149.2C389 151.8 389.9 154.7 390.5 157.8C391.1 160.9 391.4 164.4 391.4 168C391.4 171.5 391 175.3 390.4 179.1C389.8 183 388.9 186.9 387.7 190.8C386.5 194.7 384.9 198.7 383.2 202.4C381.5 206.2 379.5 209.9 377.4 213.4C375.2 216.9 372.8 220.2 370.3 223.2C367.8 226.2 365.1 229 362.4 231.4C359.8 233.8 356.9 235.9 354.1 237.5C351.4 239.2 348.5 240.5 345.8 241.3C343.1 242.2 339.1 242.4 337.8 242.6"/>
<path class="t" d="M377 133.1C378.2 133.5 382 134.2 384.2 135.4C386.3 136.6 388.4 138.2 390.1 140.2C391.8 142.1 393.4 144.5 394.6 147.1C395.8 149.8 396.8 152.8 397.4 156C398.1 159.3 398.4 162.8 398.5 166.5C398.5 170.1 398.3 174 397.7 178C397.2 181.9 396.3 186 395.2 190.1C394 194.1 392.6 198.2 390.9 202.2C389.3 206.1 387.3 210.1 385.2 213.8C383.1 217.5 380.7 221.2 378.3 224.5C375.8 227.8 373.1 230.9 370.4 233.6C367.6 236.4 364.8 238.9 361.9 241C359 243 356.1 244.8 353.2 246.1C350.3 247.4 347.4 248.3 344.6 248.8C341.9 249.3 338 249 336.6 249"/>
<path class="t" d="M376.6 230C375.1 231.6 370.7 236.5 367.6 239.2C364.5 241.9 361.3 244.2 358.1 246C355 247.9 351.7 249.3 348.7 250.2C345.6 251.1 342.5 251.5 339.6 251.4C336.8 251.3 334 250.7 331.5 249.6C329 248.6 326.7 247 324.7 245C322.7 243 320.9 240.6 319.5 237.7C318.1 234.9 317 231.7 316.2 228.2C315.5 224.7 315.2 218.7 315 216.8"/>
<path class="t" d="M370.1 163.5C369.1 162.7 366.9 160.1 364.6 158.7C362.2 157.3 359.7 154.7 356 155.3C352.3 155.9 346.3 158.7 342.3 162.2C338.3 165.6 334.7 171 332 175.9C329.3 180.7 327 186.7 326 191.3C325 195.9 325.3 199.6 326 203.3C326.7 207 328.1 211.2 330.3 213.6C332.4 216.1 336.3 217.2 338.9 218.1C341.4 219 344.6 218.9 345.7 219.1"/>
<path class="t" d="M327.9 194.7C328 196.2 327.9 200.6 328.6 203.3C329.2 206.1 329.9 209.2 331.7 211.2C333.4 213.2 337.1 214.4 339.2 215.3C341.3 216.2 343.2 216.5 344 216.7"/>
<path class="t" d="M352.6 223C351.7 223.5 349.4 225.4 347.4 225.6C345.4 225.8 342.4 225.1 340.6 224.2C338.7 223.4 337 221.1 336.3 220.5"/>
<ellipse class="if" cx="363.3" cy="191.7" rx="19.2" ry="31.4" transform="rotate(25 363.3 191.7)" style="stroke:#222;stroke-width:1"/>
<ellipse class="i" cx="363.6" cy="191.8" rx="18.2" ry="30.3" transform="rotate(25 363.6 191.8)"/>
<ellipse class="i" cx="364.1" cy="191.8" rx="16.8" ry="28.9" transform="rotate(25 364.1 191.8)" style="stroke:#222;stroke-width:1.1"/>
<path class="i" d="M358.5 217.5C357.9 217.5 356.1 217.6 355 217.4C353.9 217.2 352.9 216.8 351.9 216.2C351 215.6 350.2 214.8 349.5 213.8C348.8 212.9 348.1 211.8 347.7 210.5C347.2 209.3 346.9 207.8 346.7 206.3C346.4 204.8 346.4 203.2 346.4 201.5C346.5 199.9 346.7 198.1 347 196.3C347.4 194.5 347.9 192.6 348.5 190.8C349 189 349.8 187.2 350.6 185.4C351.4 183.7 352.3 181.9 353.3 180.3C354.4 178.7 355.5 177.2 356.6 175.7C357.8 174.3 359 173 360.3 171.9C361.5 170.8 362.8 169.8 364.1 169C365.4 168.2 366.7 167.5 367.9 167.1C369.2 166.6 370.4 166.4 371.6 166.3C372.8 166.2 374 166.4 375 166.7C376 167 377 167.6 377.9 168.2C378.8 168.9 379.8 170.4 380.2 170.9"/>
<path class="i" d="M356.5 216.1C356 216 354.4 215.7 353.5 215.2C352.7 214.7 351.9 214 351.2 213.1C350.5 212.3 349.9 211.2 349.5 210.1C349 208.9 348.7 207.6 348.5 206.2C348.3 204.8 348.2 203.2 348.3 201.6C348.4 200 348.6 198.3 348.9 196.6C349.2 194.9 349.7 193.1 350.3 191.3C350.8 189.6 351.6 187.8 352.3 186.1C353.1 184.4 354 182.7 355 181.2C356 179.6 357 178.1 358.1 176.8C359.2 175.4 360.4 174.2 361.6 173.1C362.8 172 364 171 365.2 170.3C366.4 169.5 367.7 168.9 368.9 168.5C370 168.1 371.2 167.9 372.3 167.9C373.4 167.8 374.4 168 375.4 168.4C376.3 168.7 377.5 169.7 378 170"/>
<path class="t" d="M355.1 214.3C354.7 214.1 353.5 213.4 352.9 212.7C352.3 212 351.7 211.2 351.3 210.2C350.8 209.3 350.5 208.1 350.3 206.9C350 205.7 349.9 204.4 349.9 203C349.9 201.6 350 200.1 350.3 198.6C350.5 197 350.8 195.4 351.3 193.9C351.7 192.3 352.3 190.7 352.9 189.1C353.5 187.5 354.3 185.9 355 184.4C355.8 182.9 356.7 181.5 357.7 180.1C358.6 178.8 359.6 177.5 360.6 176.3C361.6 175.2 362.7 174.1 363.8 173.2C364.9 172.4 366 171.6 367 171C368.1 170.4 369.2 169.9 370.2 169.6C371.2 169.3 372.2 169.2 373.2 169.3C374.1 169.3 375.4 169.8 375.8 169.9"/>
<ellipse class="of" cx="365.9" cy="192.2" rx="11.3" ry="23" transform="rotate(25 365.9 192.2)" style="stroke-width:1.1"/>
<path class="i" d="M357.3 211.9C357 211.6 356.1 210.8 355.6 210.1C355.2 209.3 354.8 208.4 354.5 207.4C354.3 206.4 354.1 205.2 354.1 204C354 202.7 354.1 201.4 354.3 200C354.5 198.6 354.8 197.1 355.1 195.6C355.5 194.2 356 192.6 356.6 191.1C357.2 189.7 357.9 188.2 358.6 186.7C359.3 185.3 360.2 183.9 361 182.6C361.9 181.4 362.8 180.1 363.7 179C364.7 178 365.7 177 366.6 176.1C367.6 175.3 368.6 174.6 369.6 174.1C370.5 173.5 371.5 173.2 372.4 172.9C373.3 172.7 374.5 172.8 374.9 172.8"/>
<path class="t" d="M357.9 210.4C357.7 210 357.1 209 356.8 208.1C356.5 207.3 356.3 206.3 356.2 205.3C356.1 204.2 356.1 203.1 356.2 201.9C356.3 200.7 356.5 199.4 356.8 198.1C357 196.8 357.4 195.4 357.8 194.1C358.2 192.8 358.8 191.4 359.3 190.1C359.9 188.8 360.6 187.4 361.3 186.2C362 185 362.8 183.8 363.6 182.7C364.4 181.6 365.2 180.5 366.1 179.6C366.9 178.7 367.8 177.8 368.7 177.1C369.5 176.4 370.4 175.8 371.3 175.4C372.1 174.9 373.3 174.6 373.7 174.4"/>
<path class="i" d="M320.5 223C320.8 223.2 321.8 223.8 322 224.5C322.2 225.2 321.6 226.6 321.5 227"/>
<!-- compressor r11 -->
<path class="i" d="M446.2 203C445.3 203.6 442.4 204.8 440.6 206.3C438.8 207.8 437 210.2 435.4 212.3C433.9 214.4 432.2 217.2 431.1 219.2C430.1 221.2 429.4 223.4 429 224.3" style="stroke:#222;stroke-width:.8"/>
<path class="o" d="M429 224.3C428.9 225.2 428.4 228 428.4 229.5C428.4 230.9 428.8 232.3 428.9 232.9" style="stroke-width:1.4"/>
<path class="i" d="M447.4 203.7C446.7 205.2 444.6 209 443.1 212.3C441.6 215.6 439.8 219.7 438.4 223.4C437.1 227.2 435.8 231.8 435 234.6C434.2 237.4 433.9 239.1 433.7 240"/>
<path class="t" d="M444.9 205.9C444 206.8 441.4 209.4 439.9 211.4C438.4 213.5 437 215.9 435.9 218.3C434.7 220.7 433.5 223.6 432.9 226C432.2 228.5 432.1 231.7 432 232.9"/>
<path class="t" d="M439.7 207.6L446.2 205.7"/>
<path class="t" d="M437.4 210.3L444.8 208.4"/>
<path class="t" d="M435.2 213.1L443.4 211.2"/>
<path class="t" d="M433.5 215.8L442.2 213.9"/>
<path class="t" d="M431.8 218.6L441 216.7"/>
<path class="t" d="M430.5 221.3L439.9 219.4"/>
<path class="t" d="M429.4 224L438.7 222.2"/>
<path class="t" d="M429 226.8L437.7 224.9"/>
<path class="t" d="M428.7 229.5L436.9 227.7"/>
<path class="t" d="M429.3 232.3L436 230.4"/>
<path class="t" d="M430 235L435.2 233.1"/>
<path class="o" d="M447.4 203.7C447.7 203.2 448.3 202.3 449.3 200.9C450.2 199.4 451.6 196.9 453.1 195.1C454.7 193.4 456.7 191.6 458.6 190.3C460.4 189 462.4 187.9 464.3 187.1C466.2 186.4 469 186.2 470 186"/>
<path class="of" d="M470 186C470 185.1 470.4 182.9 470.3 180.9C470.2 178.8 469.7 175.8 469.4 173.7C469.1 171.6 468.5 169.8 468.6 168.3C468.7 166.8 469.2 165.6 470 164.6C470.8 163.5 472.3 162.6 473.6 162.1C474.8 161.6 475.2 161.2 477.4 161.6C479.7 161.9 485 163.4 487.1 164.3C489.2 165.2 489.3 166 490 167.1C490.7 168.2 491 169.3 491.1 170.9C491.3 172.4 490.8 175.2 490.9 176.6C490.9 177.9 491.3 178.5 491.4 178.9"/>
<path class="o" d="M491.4 178.9C491.9 179.1 493.1 180 494.3 180.3C495.4 180.6 496.9 180.5 498.3 180.7C499.7 180.9 499.2 180.3 502.9 181.3C506.5 182.3 517.1 185.7 520 186.6"/>
<path class="i" d="M470.9 166.9C471.2 165.7 472.3 164.1 473.4 163.4C474.5 162.7 475.2 162.3 477.4 162.6C479.7 162.9 484.9 164.4 486.9 165.3C488.9 166.2 489 166.7 489.4 168C489.8 169.3 489.9 171.9 489.1 173.1C488.4 174.4 487.5 175.4 485.1 175.4C482.8 175.5 477.1 174.3 474.9 173.4C472.6 172.6 472.1 171.4 471.4 170.3C470.8 169.2 470.5 168 470.9 166.9Z"/>
<path class="t" d="M473.1 166.6C473.4 165.8 474.2 165 475 164.6C475.8 164.2 476.1 164 477.9 164.3C479.6 164.6 484.1 165.8 485.7 166.6C487.3 167.3 487.2 167.9 487.4 168.9C487.7 169.8 487.6 171.5 487.1 172.3C486.7 173.1 486.4 173.8 484.6 173.7C482.7 173.6 477.9 172.4 476 171.7C474.1 171 473.9 170.3 473.4 169.4C473 168.6 472.9 167.4 473.1 166.6Z"/>
<path class="i" d="M476.3 171.7C476.3 171.1 476.2 168.8 476.6 168C477 167.2 478 167 478.6 167.1C479.1 167.3 479.8 168 480 168.9C480.2 169.8 480 172 480 172.6"/>
<path class="i" d="M481.4 172.9C481.5 172.3 481.3 170.1 481.7 169.4C482.1 168.7 483.1 168.4 483.7 168.6C484.3 168.7 484.9 169.4 485.1 170.3C485.4 171.1 485.1 173.1 485.1 173.7"/>
<path class="i" d="M471.7 170.9L473.1 186.6"/>
<path class="i" d="M481.4 174.6L482.9 189.7"/>
<path class="i" d="M487.1 174.6L488.3 188.3"/>
<path class="t" d="M489.4 176.6L490 186.3"/>
<path class="i" d="M470.3 186C471 186.3 472.2 187 474.3 187.7C476.4 188.4 480.5 189.9 482.9 190C485.2 190.1 487.2 189.2 488.6 188.6C489.9 188 490.6 186.7 491 186.3"/>
<path class="i" d="M488.9 173.7C489.3 174 490.9 173.5 491.4 175.1C491.9 176.8 492 182 491.9 183.7C491.7 185.4 490.5 185.1 490.3 185.4"/>
<path class="i" d="M471.1 186.9L472.9 202.6"/>
<path class="i" d="M474.6 188.3L476 203.4"/>
<path class="t" d="M470.3 190.9L467.9 201.1"/>
<path class="i" d="M482.9 190.9L484.6 205.1"/>
<path class="i" d="M488.3 189.4L490.3 202"/>
<path class="t" d="M476 193.4C476.4 193.8 477.9 194.7 478.6 195.4C479.2 196.2 480.1 197.5 480 198C479.9 198.5 478.5 198.6 477.9 198.3C477.2 197.9 476.3 196.3 476 195.9"/>
<path class="i" d="M484.5 193.4C485 195.7 486.8 203.9 487.4 207.2C488 210.5 488.4 210.1 487.9 213C487.4 215.9 485.8 219.7 484.5 224.5C483.2 229.3 481.2 236.3 479.9 241.7C478.5 247.1 477.5 251.9 476.4 257C475.3 262.1 473.8 268.5 473.1 272C472.4 275.5 472.4 276.9 472.3 277.9"/>
<path class="i" d="M490.8 193.4C490.8 195.7 490.6 203.9 490.8 207.2C491 210.5 492.2 210.1 492 213C491.8 215.9 490.8 219.7 489.7 224.5C488.6 229.3 486.8 236.3 485.6 241.7C484.5 247.1 483.9 251 482.8 257C481.7 263 479.7 273.9 478.9 277.9C478.1 281.9 478.1 280.5 478 281"/>
<path d="M489 203L490.8 199L491.5 209L489.5 213Z" fill="#aaa" stroke="none"/>
<path class="i" d="M487 208.2C483.7 207.1 471.4 202.2 467.2 201.5C463 200.8 463.4 202.9 462 204C460.6 205.1 459.1 206.6 458.6 207.8C458.2 209 458.9 210.4 459.3 211.2C459.7 212 460.7 212.2 461 212.4"/>
<path class="i" d="M461.5 210.4L487 219.8"/>
<path class="i" d="M491 221.4L500.6 225"/>
<path class="i" d="M461 212.4L486.5 222.2"/>
<path class="i" d="M490.5 223.8L499.4 227.4"/>
<path class="t" d="M463 207.5L487.5 216.2"/>
<ellipse class="i" cx="502.3" cy="226.6" rx="2" ry="1.7"/>
<ellipse class="t" cx="460.2" cy="210.2" rx="1" ry="1.3"/>
<path class="i" d="M492.5 213L504 217"/>
<path class="i" d="M493 216L503.5 219.6"/>
<path class="i" d="M493.1 183.7L520 193.4"/>
<path class="i" d="M492.1 188L511.4 195.1"/>
<path class="t" d="M494.3 186.3L514.3 193.7"/>
<path class="i" d="M491.4 190.9L494.3 192.3"/>
<path class="i" d="M492.9 202.3L493.6 215.1"/>
<path class="i" d="M502.1 204.4L502.9 215.1"/>
<path class="i" d="M504.3 205.1L504.6 219.4"/>
<path class="t" d="M494.3 205.1L501.4 208"/>
<path class="t" d="M494.3 209.4L501.4 212.3"/>
<ellipse class="if" cx="502" cy="199.4" rx="4.6" ry="2.9" transform="rotate(12 502 199.4)"/>
<ellipse class="t" cx="501.7" cy="198.9" rx="3.1" ry="1.9" transform="rotate(12 501.7 198.9)"/>
<path class="i" d="M499.4 198L504.6 199.7"/>
<path class="i" d="M501.1 200.3L503.1 197.4"/>
<path class="i" d="M497.6 200.3C497.7 200.7 497.5 202.3 498.3 203C499 203.7 500.9 204.4 502.1 204.4C503.4 204.5 505 204 505.7 203.4C506.4 202.8 506.3 201.3 506.4 200.9"/>
<path class="i" d="M507.4 204C507.1 204.7 505.9 206.4 505.4 208C505 209.6 504.6 211.8 504.6 213.7C504.6 215.6 505.3 218.5 505.4 219.4" style="stroke:#222;stroke-width:.85"/>
<ellipse class="i" cx="513.1" cy="216.6" rx="4.3" ry="4.9" transform="rotate(-20 513.1 216.6)"/>
<ellipse class="t" cx="513.6" cy="216.6" rx="2.9" ry="3.4" transform="rotate(-20 513.6 216.6)"/>
<path class="i" d="M450.7 219.4C450.5 218.6 451.4 217 452.1 216.3C452.9 215.6 454.1 215 455 215.1C455.9 215.2 457.2 216 457.4 216.9C457.7 217.7 457.1 219.4 456.4 220.1C455.8 220.9 454.5 221.3 453.6 221.1C452.6 221 451 220.2 450.7 219.4Z"/>
<path class="t" d="M449.3 225.1C449.5 224.7 450 222.8 450.7 222.3C451.4 221.8 453 221.8 453.6 222.3C454.2 222.8 454.2 224.7 454.3 225.1"/>
<path class="i" d="M448.6 228C449.3 227.7 451.7 226.3 452.9 226.3C454 226.3 455.5 227.2 455.7 228C456 228.8 454.5 230.5 454.3 231"/>
<!-- compressor r12 -->
<path class="o" d="M500 180.7L522.9 188.3"/>
<path class="i" d="M500 185.4L519.3 191.7"/>
<path class="t" d="M500 188L517.1 193.7"/>
<path class="i" d="M500 190.9L515 196"/>
<path class="i" d="M500 196L511.4 200"/>
<path class="t" d="M500 198.3L508.6 201.4"/>
<path d="M505.7 206.6L542.9 167.3L561.4 174.4L561.7 185.9L549.3 197.3L533.1 210.9L532.6 217.3L523.6 224L520 227.4L513.1 228.3L507.1 224L504.9 215.1Z" fill="#fff" stroke="none"/>
<path class="t" d="M505.7 206.6L522.6 188.7"/>
<path class="o" d="M522.6 188.7L542.9 167.3L561.4 174.4L561.7 185.9L549.3 197.3"/>
<path class="i" d="M549.3 197.3L533.1 210.9L532.6 217.3L523.6 224"/>
<path class="i" d="M505.1 210.9C505.1 211.6 504.6 213 504.9 215.1C505.1 217.2 505.5 221.2 506.9 223.4C508.2 225.6 510.7 227.6 512.9 228.3C515 229 518.2 228.1 520 227.4C521.8 226.7 523 224.6 523.6 224" style="stroke:#222;stroke-width:.9"/>
<path class="i" d="M559.4 176.6L523.6 213.7"/>
<path class="i" d="M505.7 206.6L523.6 213.7"/>
<path class="i" d="M523.6 213.7L523.6 224"/>
<path class="i" d="M561.7 181.7L533.7 209.4"/>
<path class="t" d="M560.6 178.7L528.6 211.6"/>
<path class="t" d="M525.7 215.1L525.7 221.6"/>
<ellipse class="i" cx="514.3" cy="216.9" rx="5.1" ry="4.7" transform="rotate(-15 514.3 216.9)"/>
<ellipse class="t" cx="514.7" cy="216.9" rx="3.4" ry="3.1" transform="rotate(-15 514.7 216.9)"/>
<path class="t" d="M507.1 210.9C507.6 210.5 508.6 208.8 510 208.7C511.4 208.6 513.8 209.4 515.7 210.1C517.6 210.9 520.5 212.9 521.4 213.4"/>
<path class="i" d="M549.3 190.9C549.6 190.5 550.8 188.7 551.4 188.7C552.1 188.7 553 189.8 553.1 190.9C553.3 191.9 552.3 194.4 552.1 195.1"/>
<path class="i" d="M549.3 197.3L556.9 199.7"/>
<path class="i" d="M550.7 195.9C551.8 196.2 555.6 196.8 557.1 197.7C558.7 198.6 559.4 200 560 201.1C560.6 202.3 560.5 203.9 560.6 204.4"/>
<path class="t" d="M553.1 195.9L558.6 198.3"/>
<path class="i" d="M540.7 198.7C541.2 198.5 542.5 197.4 543.6 197.3C544.6 197.2 546.5 197.9 547.1 198"/>
<path class="of" d="M561.4 198.3C561.8 197.9 562.8 196.5 563.6 195.9C564.3 195.2 565.6 194.7 566 194.4"/>
<path class="o" d="M566 194.4L592.1 205.1"/>
<path class="o" d="M592.1 205.1C592.3 205.9 593.1 207.8 593.1 209.4C593.2 211.1 592.7 214.2 592.6 215.1"/>
<path class="i" d="M561.7 198.9L588.3 209.1L592.1 205.4"/>
<path class="i" d="M562.3 202.9L587.7 212.6"/>
<path class="i" d="M588.3 209.1L587.4 218"/>
<path class="t" d="M562.9 206.6L585.7 215.4"/>
<path class="t" d="M563.6 200.9L587.9 210.6"/>
<path class="i" d="M561.4 198.3L561.7 206.6"/>
<path class="i" d="M533.1 205.4C533.9 204.9 535.8 203.2 537.4 202.3C539 201.3 540.8 200.5 542.9 199.7C545 198.9 548.8 197.7 550 197.3"/>
<path class="i" d="M557.1 202C557.6 202.4 559.4 203.4 560 204.4C560.6 205.4 560.5 207.4 560.6 208"/>
<path class="i" d="M560.6 205.1L541.7 222.6"/>
<path class="i" d="M541.7 222.6L555.7 231"/>
<path class="t" d="M561.4 208.7L585.7 218"/>
<path class="o" d="M580 231C580.7 230.1 582.4 227.5 584.3 225.9C586.2 224.2 588.8 222.1 591.4 220.9C594 219.6 598.6 218.7 600 218.3"/>
<path class="i" d="M583.6 231C584.3 230.2 586.1 227.7 587.9 226.3C589.6 224.9 592.3 223.5 594.3 222.6C596.3 221.7 599 221.1 600 220.9"/>
<path class="t" d="M585.7 231C586.4 230.5 587.6 228.9 590 227.7C592.4 226.5 598.3 224.4 600 223.7"/>
<path class="i" d="M500 215.1C500.5 215.4 502.1 215.4 502.9 216.6C503.6 217.8 504.5 220.4 504.3 222.3C504 224.2 501.9 227 501.4 228"/>
<path class="i" d="M500 225.1C500.4 225.3 502 225.6 502.6 226.3C503.1 227 503.5 228.6 503.1 229.4C502.8 230.2 501.1 230.7 500.7 231"/>
<ellipse class="t" cx="502.6" cy="228" rx="1.1" ry="1.4"/>
<path class="i" d="M505.7 225.1C506.2 225.6 507.1 227.2 508.6 228C510 228.8 513.2 229.7 514.3 229.7C515.4 229.7 514.9 228.3 515 228"/>
<!-- compressor r13 -->
<path class="o" d="M592.1 205.1C592.3 205.9 593.1 208 593.1 209.7C593.2 211.4 592.4 214.2 592.3 215.1"/>
<path class="o" d="M592.3 215.1L607.1 221.6"/>
<path class="o" d="M607.1 221.6C607.5 220.8 608 218.5 609.1 216.9C610.2 215.2 611.7 213.3 613.7 211.7C615.8 210.1 619 208.5 621.4 207.4C623.9 206.4 626.2 205.5 628.6 205.6C631 205.7 634.5 207.7 635.7 208.1"/>
<path class="o" d="M635.7 208.1L643.7 199.4L662 206.6"/>
<path class="o" d="M662 206.6C662.2 207.5 663.2 210.1 663.1 212.3C663.1 214.4 662 218.2 661.7 219.4"/>
<path class="i" d="M660 208L641.7 228.7"/>
<path class="i" d="M661.1 210.6L632.9 240" style="stroke:#333;stroke-width:.8"/>
<path class="t" d="M652.9 218C653.3 217.8 655.1 216.3 655.7 216.6C656.3 216.8 656.8 218.5 656.6 219.4C656.3 220.4 654.7 221.8 654.3 222.3"/>
<ellipse class="i" cx="620.6" cy="214.6" rx="9.7" ry="4.3" transform="rotate(-22 620.6 214.6)"/>
<ellipse class="t" cx="621.4" cy="214.9" rx="7.4" ry="3.1" transform="rotate(-22 621.4 214.9)"/>
<path class="i" d="M580 219.4C581 219.7 583.6 220.9 585.7 220.9C587.9 220.9 590.7 219.9 592.9 219.4C595 219 597.6 218.2 598.6 218"/>
<path class="t" d="M585.7 208L586.4 216.6"/>
<path class="t" d="M584.3 210.9C584.8 211.1 586.7 211.5 587.1 212.3C587.6 213.1 586.9 215.3 586.9 215.9"/>
<!-- compressor r21 -->
<path class="o" d="M428.6 231C428.8 231.7 429.1 233.4 429.7 235C430.3 236.6 431.6 238.1 432 240.7C432.4 243.3 432 247.6 432.3 250.7C432.6 253.9 432.9 256.7 433.7 259.6C434.5 262.4 435.9 266 437.1 267.9C438.4 269.8 440.7 270.5 441.4 271"/>
<path class="o" d="M441.4 271C441.1 271.7 439.5 273.7 439.4 275C439.3 276.3 439.9 277.6 440.9 278.7C441.8 279.8 443.9 280.3 445.1 281.6C446.4 282.9 447.1 284.7 448.6 286.4C450 288.2 451.6 290.4 453.7 292.1C455.9 293.9 459.1 295.7 461.4 296.7C463.7 297.8 466.4 298.1 467.4 298.4"/>
<ellipse class="i" cx="451.1" cy="249.3" rx="11.7" ry="10.3" transform="rotate(-20 451.1 249.3)"/>
<ellipse class="i" cx="448" cy="250.1" rx="8.9" ry="8.6" transform="rotate(-20 448 250.1)"/>
<ellipse class="of" cx="445.7" cy="250.7" rx="6.6" ry="6.6" style="stroke-width:1"/>
<ellipse class="i" cx="445.1" cy="251" rx="4.9" ry="5.1"/>
<path class="i" d="M448.6 245C449.5 244.8 452.8 243.1 454.3 243.6C455.8 244 457 246.2 457.4 247.9C457.9 249.5 457.6 251.9 456.9 253.6C456.1 255.2 454.4 257.2 453.1 257.9C451.9 258.5 449.9 257.6 449.3 257.6"/>
<path class="i" d="M451.7 244.4L452.3 257.3"/>
<path class="t" d="M455.1 245.3L455.4 255.7"/>
<path class="i" d="M457.4 217.9C456.9 218.3 455.2 219.8 454.3 220.7C453.3 221.7 452.7 222.4 451.7 223.6C450.8 224.8 449.2 226.7 448.6 227.9C448 229 447.6 230 448 230.7C448.4 231.4 449.8 232 450.7 231.9C451.6 231.7 453.1 230.3 453.6 230"/>
<path class="i" d="M453.7 215C453.4 215.5 451.6 217.2 451.7 218.1C451.8 219.1 453.9 220.3 454.3 220.7"/>
<path class="i" d="M449.3 233.6C449.9 233.4 451.8 232.7 452.9 232.7C453.9 232.8 455.5 233.3 455.7 233.9C456 234.4 455.2 235.7 454.3 236.1C453.4 236.6 451 236.4 450.3 236.4"/>
<path class="t" d="M450 237.9C450.7 237.9 453.4 237.2 454.3 237.9C455.1 238.5 455 241 455.1 241.6"/>
<path class="i" d="M441.4 257.9C441.9 258.1 443 259 444 259.3C445 259.6 446.5 259.2 447.1 259.6C447.8 260 447.9 261.2 448 261.6"/>
<path class="i" d="M441.4 262.1C441.9 262.3 443.6 262.3 444 263.3C444.4 264.3 444.1 267.1 443.7 268.1C443.3 269.1 441.8 269.1 441.4 269.3"/>
<path class="t" d="M442.6 263.3L442.3 268.1"/>
<path class="i" d="M440 275C440.5 274.8 442.1 273.6 442.9 273.9C443.6 274.1 444.3 275.6 444.3 276.4C444.3 277.2 443.1 278.3 442.9 278.7"/>
<path class="i" d="M515.4 227.3C514.4 229.8 511.3 237 509.3 242.1C507.3 247.2 505.2 252.9 503.6 257.9C501.9 262.9 500.5 267.4 499.4 272.1C498.4 276.9 497.7 282 497.1 286.4C496.6 290.8 496.2 296.4 496 298.4" style="stroke:#222;stroke-width:.9"/>
<path class="t" d="M511.4 230.7C510.5 233.3 507.5 241.2 505.7 246.4C504 251.7 502.2 257.1 500.9 262.1C499.5 267.1 498.4 274 497.9 276.4"/>
<ellipse class="if" cx="510.3" cy="262.1" rx="7.1" ry="8" transform="rotate(-15 510.3 262.1)" style="stroke:#222;stroke-width:1"/>
<ellipse class="i" cx="509.7" cy="262.4" rx="5.4" ry="6.3" transform="rotate(-15 509.7 262.4)"/>
<path class="i" d="M514.3 255.9L520 252.4"/>
<path class="i" d="M515.4 269L520 271"/>
<path class="i" d="M505.7 256.4C506.7 256 509 254.8 511.4 253.6C513.8 252.4 518.6 250 520 249.3"/>
<path class="of" d="M465.1 277.9L468.9 275.6L482.9 281.3L483.7 277.9L494.6 282.1L494.9 292.1L482.9 294.4L465.4 286.4Z" style="stroke-width:.9;stroke:#222"/>
<path class="i" d="M465.1 277.9L482.9 285L482.9 294.4"/>
<path class="i" d="M482.9 281.3L482.9 285"/>
<path class="t" d="M467.1 279.6L481.7 285.6"/>
<path class="t" d="M466 282.1L482.3 288.7"/>
<path class="i" d="M483.7 277.9L483.7 282.1L494.3 286.4"/>
<path class="i" d="M465.4 286.4C465 287.4 463.3 290.4 462.9 292.1C462.4 293.9 462.9 296.3 462.9 297.1"/>
<!-- compressor r22 -->
<path class="i" d="M555 229.3L554.6 235.9"/>
<path class="i" d="M516.9 267.5C517.5 267.8 518.6 269.4 520.7 269.5C522.9 269.6 528.1 267.9 529.7 268.2C531.3 268.6 529.8 270.7 530.5 271.6C531.1 272.4 532.5 273.6 533.6 273.4C534.7 273.2 536.3 271.5 537.2 270.3C538 269.1 536.7 267.3 538.7 266.2C540.7 265.1 546.2 264.9 549 263.6C551.8 262.3 553.9 260.6 555.4 258.4C556.9 256.3 557.6 253.3 558 250.7C558.4 248.2 558.4 245.2 558 243C557.6 240.9 556.5 238.9 555.4 237.9C554.4 236.8 553.1 236.6 551.6 236.6C550.1 236.6 548.8 237.4 546.4 237.9C544.1 238.3 540.2 238.4 537.4 239.2C534.6 239.9 531.4 242.3 529.7 242.4C528 242.5 528.3 240 527.1 239.8C526 239.6 523.8 240.1 522.6 241.1C521.5 242 521.5 244 520.1 245.6C518.7 247.2 515.2 249.9 514.3 250.7"/>
<path class="i" d="M538.7 239.8C539.8 240.5 543.4 242 545.1 244.3C546.9 246.5 548.8 250.3 549 253.3C549.2 256.3 547.9 260.2 546.4 262.3C544.9 264.5 541.1 265.5 540 266.2" style="stroke:#222;stroke-width:.9"/>
<path class="i" d="M542.8 238.6C544 239.6 548.1 242 549.8 244.3C551.4 246.6 552.8 249.8 552.9 252.7C552.9 255.5 551.5 259.3 550.3 261.3C549 263.2 546.2 263.9 545.4 264.4"/>
<path class="i" d="M533.6 241.7C534.5 242.5 537.9 244.2 539.4 246.2C540.8 248.3 542.2 251.3 542.3 253.9C542.4 256.6 541.1 260.2 540 262.3C538.9 264.4 536.2 265.7 535.5 266.4"/>
<path class="t" d="M536.1 240.7C537.2 241.5 540.7 243.2 542.3 245.3C543.9 247.5 545.5 250.7 545.7 253.6C545.8 256.4 544.6 260.2 543.3 262.3C542.1 264.4 538.8 265.5 537.9 266.2"/>
<path class="i" d="M529.7 242.4L533.6 241.7"/>
<ellipse class="i" cx="531.4" cy="255.4" rx="3.7" ry="3.9" style="stroke:#222"/>
<ellipse class="i" cx="531.4" cy="255.4" rx="2.4" ry="2.6"/>
<ellipse class="t" cx="531.4" cy="255.4" rx="1" ry="1"/>
<path class="i" d="M525.9 248.9C526.3 248.7 527.4 247.8 528.7 247.6C530 247.5 532.3 247.6 533.6 248.2C534.9 248.7 535.9 250.3 536.4 250.7"/>
<path class="i" d="M524.8 262.3C525.5 262.5 527.2 263.6 528.7 263.6C530.1 263.6 532.3 263.2 533.6 262.6C534.8 262 535.7 260.4 536.1 260"/>
<path class="i" d="M514.3 257.2L526.9 249.7"/>
<path class="i" d="M516.2 268.5L528.7 264.9"/>
<path class="i" d="M520.5 251.2C521.1 252.2 523.7 255.1 524.1 257.2C524.4 259.2 522.8 262.5 522.5 263.6"/>
<path class="i" d="M522.5 250.2C523.2 251.3 526 254.4 526.4 256.6C526.8 258.9 525.1 262.4 524.8 263.6"/>
<path class="t" d="M520.7 259.7L525.9 258.7"/>
<path class="i" d="M519.4 262.3C520 262.5 521.6 263 522.6 263.6C523.7 264.2 525.3 265.7 525.9 266.2" style="stroke:#222;stroke-width:.9"/>
<path class="i" d="M514.3 256.6C514.8 257.6 517.3 260.2 517.6 262.3C518 264.4 516.6 267.9 516.3 269"/>
<path class="i" d="M512.5 255.9C513 256.9 515.5 259.8 515.8 262C516.1 264.3 514.5 268.3 514.3 269.5"/>
<path class="of" d="M502.7 262.3C502.7 260.7 503.3 259 504.3 257.9C505.2 256.9 507 256 508.4 255.9C509.7 255.8 511.5 256.3 512.5 257.4C513.5 258.5 514.2 260.6 514.3 262.3C514.4 264 513.9 266.3 513 267.5C512.1 268.7 510.3 269.5 508.9 269.5C507.5 269.6 505.5 268.9 504.5 267.7C503.5 266.5 502.8 263.9 502.7 262.3Z" style="stroke:#222;stroke-width:1"/>
<ellipse class="i" cx="507.9" cy="262.8" rx="4.6" ry="5.4" transform="rotate(-10 507.9 262.8)"/>
<path class="t" d="M508.4 255.9L509.1 258.7"/>
<path class="t" d="M508.9 269.5L509.4 267.2"/>
<path class="o" d="M600 217C598.1 217.9 592.4 219.6 588.6 222.1C584.8 224.7 580.7 228.3 577.1 232.1C573.6 236 570.2 240.2 567.1 245C564 249.8 561 255.7 558.6 260.7C556.2 265.7 554.3 270.9 552.9 275C551.4 279.1 550.5 283.6 550 285.3" style="stroke-width:1"/>
<path class="i" d="M600 219.6C598.3 220.3 593.5 221.5 590 223.9C586.5 226.2 582.3 230.1 578.9 233.9C575.4 237.6 572.2 241.8 569.1 246.4C566.1 251.1 563 256.9 560.6 261.9C558.2 266.8 556.2 272.2 554.9 276.1C553.5 280 552.7 283.8 552.3 285.3" style="stroke:#222;stroke-width:.9"/>
<path class="t" d="M580 236.4C578.5 238.5 573.7 244.2 570.9 248.7C568 253.2 565.1 258.7 562.9 263.6C560.6 268.4 558.1 275.5 557.1 277.9"/>
<path class="t" d="M569.7 248.9L571.1 249.6"/>
<path class="t" d="M568.6 251.5L570 252.2"/>
<path class="t" d="M567.5 254.2L568.9 254.9"/>
<path class="t" d="M566.4 256.8L567.8 257.5"/>
<path class="t" d="M565.2 259.5L566.7 260.2"/>
<path class="t" d="M564.1 262.1L565.6 262.8"/>
<path class="t" d="M563 264.8L564.4 265.5"/>
<path class="t" d="M561.9 267.4L563.3 268.1"/>
<path class="t" d="M560.8 270.1L562.2 270.8"/>
<path class="t" d="M559.7 272.7L561.1 273.4"/>
<path class="t" d="M558.5 275.4L560 276.1"/>
<path class="t" d="M557.4 278L558.9 278.7"/>
<path class="i" d="M600 233.6C598.6 234 594.2 235.2 591.4 236.4C588.7 237.7 585 239.8 583.4 241C581.9 242.2 581.9 242.4 582.3 243.6C582.7 244.8 582.8 246.7 585.7 248.1C588.7 249.6 597.6 251.7 600 252.4"/>
<path class="t" d="M600 236.4C598.8 236.8 595.1 237.7 592.9 238.7C590.6 239.7 587.5 241.3 586.6 242.4C585.7 243.6 585.2 244.4 587.4 245.6C589.7 246.7 597.9 248.7 600 249.3"/>
<path class="i" d="M568.6 250.7L600 262.1"/>
<path class="t" d="M567.1 255L580 260.1"/>
<path class="i" d="M591.4 262.1C591.7 263.3 592.9 266.9 592.9 269.3C592.9 271.7 591.7 275.2 591.4 276.4"/>
<path class="t" d="M595.4 263.6C595.6 264.8 596.6 268.6 596.6 270.7C596.6 272.9 595.6 275.5 595.4 276.4"/>
<path class="t" d="M598.6 260.7L600 266.4"/>
<!-- compressor r23 -->
<path class="o" d="M661.7 219.3L631.7 250"/>
<path class="i" d="M658.9 216.1L626 245.3"/>
<path class="t" d="M658.6 216L648.4 227.1"/>
<path class="t" d="M654.3 219.3C654.6 219.1 656 217.9 656.4 218.1C656.9 218.4 657.1 220.3 656.9 221C656.6 221.7 655.2 222.2 654.9 222.4"/>
<path class="of" d="M605.7 238.6C605.6 239.9 604.5 244.2 604.9 246.7C605.2 249.3 606.4 252.1 608 253.9C609.6 255.6 611.8 256.9 614.3 257.3C616.8 257.7 620.8 257.1 622.9 256.4C624.9 255.7 625.9 254.8 626.6 253C627.3 251.2 627.5 247.2 627.1 245.9C626.8 244.5 624.8 245.1 624.3 245" style="stroke:#222;stroke-width:.95"/>
<path class="i" d="M605.7 238.6L624.3 245"/>
<path class="t" d="M607.4 239.6L608 238.3"/>
<path class="t" d="M609.6 240.3L610.1 239"/>
<path class="t" d="M611.7 241.1L612.3 239.8"/>
<path class="t" d="M613.9 241.8L614.4 240.5"/>
<path class="t" d="M616 242.5L616.6 241.3"/>
<path class="t" d="M618.1 243.3L618.7 242"/>
<path class="t" d="M620.3 244L620.9 242.7"/>
<path class="t" d="M622.4 244.8L623 243.5"/>
<ellipse class="i" cx="614.6" cy="249.3" rx="5.1" ry="4.3" transform="rotate(20 614.6 249.3)"/>
<ellipse class="t" cx="615.1" cy="249.6" rx="3.4" ry="2.9" transform="rotate(20 615.1 249.6)"/>
<path class="i" d="M627.1 245.9L631.7 250"/>
<path class="i" d="M626.6 253C627.2 252.9 629.4 252.9 630.3 252.4C631.1 251.9 631.5 250.4 631.7 250"/>
<path class="i" d="M637.1 242.4C637.9 242 639.9 240 641.4 240.1C643 240.3 645.3 242.1 646.3 243.6C647.2 245 647.6 247 647.1 248.7C646.7 250.4 645 252.9 643.7 253.6C642.4 254.2 640.1 252.9 639.4 252.7" style="stroke:#222;stroke-width:.9"/>
<path class="i" d="M641.4 240.1C641.2 241 640.3 242.9 640 245C639.7 247.1 639.5 251.4 639.4 252.7"/>
<path class="t" d="M642 243.6L641.4 250.7"/>
<path class="t" d="M643.6 244.7L643 251.4"/>
<path class="t" d="M645.1 245.9L644.6 252.1"/>
<path class="i" d="M636.4 243.6L637.9 252.4"/>
<path class="o" d="M637.1 253C637.3 253.8 637.6 256.3 638.3 257.9C639 259.4 640.7 260 641.4 262.4C642.2 264.8 642.6 268.6 642.9 272.1C643.1 275.7 643.2 279.2 642.9 283.6C642.5 288 641 296 640.6 298.4"/>
<path class="i" d="M607.9 257.9C607.9 259.3 607.2 264.1 608.3 266.4C609.4 268.7 611.6 270.6 614.3 271.6C617 272.6 622.6 272.3 624.3 272.4"/>
<ellipse class="i" cx="627.1" cy="263.6" rx="4.6" ry="8.3" transform="rotate(15 627.1 263.6)"/>
<path class="i" d="M610 257.9C611.9 257.5 618.7 256.1 621.4 255.7C624.2 255.4 625.6 255.7 626.4 255.7"/>
<path class="i" d="M630.7 256.4C631.3 256.7 633.2 256.9 634.3 257.9C635.4 258.8 636.5 260.7 637.1 262.1C637.7 263.6 637.7 265.7 637.9 266.4"/>
<path class="i" d="M634.7 307C635.7 304.4 639.2 296.6 640.4 291.7C641.6 286.8 642.1 281.9 642.1 277.9C642.1 273.9 641.4 270 640.4 267.6C639.4 265.2 638 264.1 636.4 263.6C634.8 263.1 632.5 263.3 630.6 264.7C628.7 266.1 626.6 269 624.9 272.2C623.2 275.4 621.6 279.5 620.3 283.7C618.9 287.9 617.5 293.6 616.8 297.5C616.1 301.4 616.1 305.4 616 307"/>
<path class="i" d="M608 300C608.3 298.6 608.6 295.4 609.9 291.7C611.2 288 613.8 281.3 615.7 277.9C617.6 274.4 620.5 272.1 621.4 271"/>
<path class="i" d="M601.9 307C602.2 305 602.5 299.5 603.6 295.2C604.7 290.9 606.8 285 608.2 281.4C609.6 277.8 611.5 274.6 612.2 273.3"/>
<path class="t" d="M597.3 307C597.7 304.4 598.5 296.6 599.6 291.7C600.8 286.8 602.7 281.5 604.2 277.9C605.7 274.3 608 271.2 608.8 269.9"/>
<path class="i" d="M583 242.7C583.3 242.2 583.7 240.5 584.6 239.7C585.4 239 586.3 238.7 588.1 238.1C590 237.5 593.2 236.4 595.9 236.1C598.5 235.9 602.8 236.5 604.1 236.6"/>
<path class="i" d="M583 242.7C583.1 243.2 583 245.2 583.6 245.9C584.2 246.5 584.4 246.1 586.6 246.9C588.8 247.6 594.8 249.5 596.9 250.4C598.9 251.4 598.6 252.2 599 252.6"/>
<path class="t" d="M587.1 240.7C587.4 240.5 587.3 239.7 588.7 239.1C590.2 238.6 593.5 237.8 595.9 237.6C598.2 237.4 601.8 237.8 603 237.9"/>
<path class="t" d="M587.1 240.7C587.3 241.4 586.5 243.6 588.1 244.9C589.8 246.1 595.4 247.8 596.9 248.4"/>
<path class="t" d="M588.9 238.4L589.3 237.1"/>
<path class="t" d="M590.7 238.1L591.1 236.8"/>
<path class="t" d="M592.6 237.8L593 236.5"/>
<path class="t" d="M594.4 237.5L594.9 236.2"/>
<path class="t" d="M596.3 237.2L596.7 235.9"/>
<path class="t" d="M598.1 236.9L598.6 235.6"/>
<path class="t" d="M600 236.5L600.4 235.3"/>
<path class="t" d="M601.9 236.2L602.3 234.9"/>
<path class="i" d="M595 230.6C595 229.9 596 229 597.1 228.1C598.3 227.3 600.2 226.1 602 225.3C603.8 224.5 606.3 223.9 608.1 223.4C610 223 611.8 222.5 613.3 222.6C614.8 222.7 616.7 223.3 617.3 224C617.9 224.7 617.5 225.9 616.9 227C616.2 228.1 614.7 229.6 613.3 230.4C611.8 231.3 610 231.8 608.1 232.1C606.3 232.5 603.9 232.7 602 232.7C600.1 232.8 598 232.8 596.9 232.4C595.7 232.1 595 231.3 595 230.6Z"/>
<ellipse class="i" cx="613.1" cy="225.1" rx="3.4" ry="1.6" transform="rotate(-15 613.1 225.1)"/>
<path class="t" d="M599 229.4C599.9 228.9 602.3 227 604.1 226.3C606 225.6 609.3 225.3 610.3 225.1"/>
<path class="t" d="M580 219.3C581.4 219.8 586 221.9 588.6 222.1C591.2 222.4 594.5 221 595.7 220.7"/>
<path class="i" d="M580 215C581.9 215.7 586.9 218 591.4 219C596 220 604.5 220.4 607.1 220.7"/>
<path class="i" d="M597.4 256.4L588.6 277.9"/>
<path class="i" d="M601.4 257.9L592.9 279.6"/>
<path class="i" d="M604.6 258.1L596 282.1"/>
<path class="t" d="M596.9 257.9L601.1 259.3"/>
<path class="t" d="M595.9 260.1L600.2 261.6"/>
<path class="t" d="M595 262.4L599.3 263.9"/>
<path class="t" d="M594.1 264.7L598.4 266.1"/>
<path class="t" d="M593.1 267L597.4 268.4"/>
<path class="t" d="M592.2 269.3L596.5 270.7"/>
<path class="t" d="M591.3 271.6L595.6 273"/>
<path class="t" d="M590.4 273.9L594.6 275.3"/>
<path class="t" d="M589.4 276.1L593.7 277.6"/>
<path class="i" d="M580 275C581 275.2 583.8 275.2 585.7 276.1C587.6 277.1 590 278.8 591.4 280.7C592.9 282.7 594 284.9 594.3 287.9C594.6 290.8 593.3 296.7 593.1 298.4"/>
<path class="i" d="M580 282.1C580.7 282.4 583.1 282.4 584.3 283.6C585.5 284.8 586.8 286.8 587.1 289.3C587.5 291.8 586.4 296.9 586.3 298.4"/>
<path class="t" d="M588.6 279.3C589 280.5 591 283.8 591.4 286.4C591.8 289 591 293.6 590.9 295"/>
<path class="i" d="M594.3 285L600 283.6"/>
<path class="i" d="M594.9 289.3L601.4 287.1"/>
<!-- compressor r31 -->
<path class="o" d="M446.6 283.9C447.1 284.8 448.5 287.7 450 289.3C451.5 290.9 452.9 291.9 455.7 293.6C458.6 295.2 463.6 297.6 467.1 299.3C470.7 301 473.8 302 477.1 303.6C480.5 305.1 483.4 306.7 487.1 308.7C490.9 310.8 497.4 314.7 499.4 315.9"/>
<path class="o" d="M499.4 315.9L500 327.9L518.6 335.9"/>
<ellipse class="i" cx="509.4" cy="324.4" rx="4.3" ry="3.9" transform="rotate(10 509.4 324.4)"/>
<ellipse class="t" cx="510" cy="324.7" rx="2.9" ry="2.6" transform="rotate(10 510 324.7)"/>
<path class="i" d="M477.1 295C477.6 295.8 478.6 298.1 480 300C481.4 301.9 484.8 305.4 485.7 306.4"/>
<path class="i" d="M494.9 285C495.2 286.9 496 292.6 497.1 296.4C498.2 300.2 499.5 305 501.4 307.9C503.3 310.8 505.5 312 508.6 313.9C511.7 315.7 518.1 317.9 520 318.7"/>
<path class="t" d="M498 285C498.3 286.7 499 291.7 500 295C501 298.3 502.4 302.4 504.3 305C506.2 307.6 508.8 309.1 511.4 310.7C514 312.3 518.6 313.8 520 314.4"/>
<path class="i" d="M487.1 292.1C488.3 292.5 492.6 293.7 494.3 294.4C496 295.1 496.7 296.1 497.1 296.4"/>
<path class="i" d="M500 317.3L520 324.4"/>
<!-- compressor r32 -->
<path class="o" d="M498.6 327.3L517.9 335.9L526.6 327.9"/>
<path class="i" d="M518.6 325.3L517.9 335.9"/>
<path class="i" d="M500 313.6L515.7 320.7L518.6 325.3"/>
<path class="i" d="M518.6 325.3L526.6 327.9"/>
<ellipse class="i" cx="509.4" cy="324.4" rx="4.3" ry="3.9" transform="rotate(10 509.4 324.4)"/>
<ellipse class="t" cx="510" cy="324.7" rx="2.9" ry="2.6" transform="rotate(10 510 324.7)"/>
<path class="o" d="M526.6 327.9C528.3 328.7 533.5 331.1 537.1 333C540.8 334.9 545.2 337.5 548.6 339.3C551.9 341.1 554.9 342.4 557.1 343.9C559.4 345.3 561.4 347.2 562.3 347.9"/>
<path class="i" d="M500 310.1L518.6 318.7L560 339.3"/>
<path class="o" d="M552.7 341.8C554 342.5 558.8 345.1 560.4 346.2C562.1 347.3 562.4 347.5 562.5 348.5C562.6 349.5 560.9 351.1 561.2 352.3C561.5 353.6 562.1 355 564.3 355.9C566.5 356.9 571.7 357.1 574.6 358C577.4 358.9 579.9 361 581.5 361.3C583.1 361.6 583.7 360.6 584.3 359.8C584.9 359 585 357 585.1 356.5"/>
<path class="i" d="M585.1 356.5C585.7 355.9 587.3 353.9 588.7 352.9C590.2 351.8 592.1 351.1 593.9 350.3C595.6 349.5 598.1 348.6 599 348.2" style="stroke:#222;stroke-width:.9"/>
<path class="i" d="M562.5 348.5C562.8 346.9 562.9 341.4 564.3 339.2C565.7 337 568.6 336.4 570.7 335.4C572.9 334.3 575 333.6 577.1 332.8C579.3 332 582.5 331.1 583.6 330.7" style="stroke:#222;stroke-width:.9"/>
<path class="i" d="M564.3 339.2L572.8 342.3L574.1 347.5L572.8 356.7"/>
<path class="i" d="M572.8 342.3L578.7 338.7L583.6 341"/>
<path class="i" d="M567.6 343.6C568.7 343 572.9 344.9 573.8 346.2C574.7 347.5 574.3 350.8 573.3 351.3C572.3 351.9 568.6 350.8 567.6 349.5C566.7 348.2 566.6 344.2 567.6 343.6Z"/>
<path class="i" d="M575.9 343.6L588.7 349.5"/>
<path class="i" d="M577.1 347.5L587.4 352.1"/>
<path class="i" d="M575.3 349.5L583.6 353.9L585.1 356.5"/>
<path class="t" d="M569.4 345.7L569.2 349"/>
<path class="t" d="M571.2 346.4L571 349.8"/>
<path class="i" d="M564.3 355.9L565.6 351.3L572.8 353.9"/>
<path class="i" d="M583.6 330.7C584.5 330.3 587.4 329.2 589.4 328.2C591.3 327.1 594.4 324.9 595.4 324.3"/>
<path class="i" d="M595.4 324.3C596.3 325.2 599.3 327.5 600.5 329.4C601.8 331.4 602.8 333.5 603.1 335.9C603.4 338.2 603 341.5 602.3 343.6C601.7 345.7 599.6 347.5 599 348.2" style="stroke:#222;stroke-width:.95"/>
<path class="i" d="M592.6 326.2C593.3 327.1 596 329.4 597.1 331.4C598.1 333.3 598.9 335.6 599 337.8C599.1 340.1 598.6 342.9 598 344.9C597.3 346.8 595.6 348.7 595.1 349.5"/>
<path class="i" d="M583.6 331.2C584.4 332.1 587.4 334.6 588.7 336.6C590 338.7 590.9 341.4 591.3 343.6C591.6 345.8 590.9 349 590.8 350" style="stroke:#222;stroke-width:.9"/>
<path class="t" d="M586.4 330.2C587.3 331.1 590.3 333.3 591.5 335.4C592.8 337.4 593.6 339.9 593.9 342.3C594.1 344.7 593.2 348.3 593.1 349.5"/>
<path class="i" d="M602.9 337.2C603.5 336.9 605.9 335.4 606.7 335.9C607.6 336.3 608.2 338.2 608 339.7C607.8 341.2 606.4 344.2 605.4 344.9C604.5 345.5 602.9 343.8 602.3 343.6"/>
<path class="t" d="M604.4 338.7C604.7 338.9 605.8 339 605.9 339.7C606.1 340.5 605.3 342.5 605.2 343.1"/>
<path class="i" d="M563 330.7C563.9 330.5 566.6 329.1 568.1 329.4C569.6 329.7 572 331.5 572 332.5C572 333.5 569 334.9 568.4 335.4"/>
<path class="i" d="M557.9 335.9C558.5 336.1 560.6 336.6 561.7 337.2C562.8 337.7 563.9 338.9 564.3 339.2"/>
<path class="i" d="M587.9 277.2C587.2 276.9 586.1 275.3 584 275.3C581.9 275.3 578 276.7 575 277.2C572 277.8 568.9 277.8 566 278.5C563.1 279.3 560.4 280.8 557.6 281.7C554.9 282.7 551.5 283.5 549.3 284.3C547 285 545.4 284.9 544.1 286.2C542.9 287.5 542.3 289.8 541.8 292C541.4 294.3 541 297.2 541.3 299.7C541.6 302.3 542.2 305 543.5 307.5C544.8 309.9 546.9 312.9 549.3 314.5C551.6 316.1 555.8 316.4 557.6 317.1C559.5 317.8 559.3 318.6 560.3 318.5C561.4 318.5 563.2 317.6 563.9 316.7C564.7 315.9 563.9 314.5 564.7 313.4C565.5 312.3 566.6 311.2 568.6 310C570.5 308.8 573.7 307.9 576.3 306.2C578.9 304.5 581.6 301.7 584 299.7C586.4 297.7 588.8 295.5 590.4 294.1C592.1 292.7 593.2 291.8 593.8 291.4" style="stroke:#222;stroke-width:.9"/>
<path class="i" d="M546.5 291.5C546.2 292.7 544.9 296 544.9 298.4C545 300.9 545.4 303.8 546.7 306.2C548 308.5 550.3 311.2 552.5 312.6C554.7 314 558.6 314.3 559.8 314.7"/>
<path class="i" d="M546.5 291.5C547.4 291.2 550.3 290.2 551.9 289.4C553.4 288.7 555.1 287.3 555.7 286.9"/>
<ellipse class="i" cx="561.5" cy="298.2" rx="8" ry="8"/>
<ellipse class="i" cx="561.5" cy="298.2" rx="4.6" ry="4.6" style="stroke:#222"/>
<ellipse class="i" cx="561.5" cy="298.2" rx="2.4" ry="2.4"/>
<ellipse class="t" cx="561.5" cy="298.2" rx="1" ry="1"/>
<path class="t" d="M566.1 298.2L569.5 298.2"/>
<path class="t" d="M565 301.2L567.6 303.3"/>
<path class="t" d="M562.3 302.8L562.9 306"/>
<path class="t" d="M559.2 302.2L557.5 305.1"/>
<path class="t" d="M557.2 299.8L554 300.9"/>
<path class="t" d="M557.2 296.6L554 295.5"/>
<path class="t" d="M559.2 294.2L557.5 291.3"/>
<path class="t" d="M562.3 293.6L562.9 290.3"/>
<path class="t" d="M565 295.2L567.6 293.1"/>
<path class="i" d="M572.4 285.3C573.9 284.2 579.1 279.9 581.4 278.5C583.8 277.2 585.7 277.4 586.6 277.2"/>
<path class="i" d="M576.3 297.4C577.6 297.2 582.1 296.4 584 295.9C585.9 295.3 587.2 294.4 587.9 294.1"/>
<path class="i" d="M581.4 278.5C582.3 279.3 585.4 281.2 586.6 283C587.8 284.8 588.6 287.4 588.6 289.4C588.6 291.5 586.9 294.4 586.6 295.4" style="stroke:#222;stroke-width:.9"/>
<path class="i" d="M586.6 277.2C587.4 278 590.5 279.9 591.7 281.7C592.9 283.5 593.8 286.1 593.8 288.2C593.8 290.2 592.1 293.1 591.7 294.1" style="stroke:#222;stroke-width:.9"/>
<path class="i" d="M577.6 281.1C578.3 281.8 581.1 283.8 582.1 285.6C583.1 287.4 583.6 290.1 583.5 292C583.4 293.9 581.8 296.3 581.4 297.2"/>
<path class="t" d="M584 277.9C584.9 278.6 587.9 280.5 589.1 282.4C590.3 284.2 591.2 286.9 591.2 288.9C591.2 291 589.5 293.6 589.1 294.6"/>
<ellipse class="if" cx="571.8" cy="291.5" rx="6.2" ry="6.2" style="stroke:#222;stroke-width:1"/>
<ellipse class="i" cx="571.4" cy="291.8" rx="4.9" ry="5.1"/>
<ellipse class="i" cx="594.3" cy="299.7" rx="1.9" ry="3.9" transform="rotate(15 594.3 299.7)" style="stroke:#222"/>
<ellipse class="i" cx="594" cy="300" rx="1" ry="2.6" transform="rotate(15 594 300)" style="fill:#999"/>
<path class="i" d="M590.4 294.1C590.9 294.3 592.1 295.1 593 295.4C593.9 295.6 595.1 295.6 595.6 295.6"/>
<path class="i" d="M568.6 310C569.2 309.8 570.7 309.8 572.4 308.7C574.1 307.7 576.7 304.7 578.9 303.6C581 302.5 583.1 302.3 585.3 302.3C587.4 302.3 590.6 303.4 591.7 303.6"/>
<path class="i" d="M575 307.5C575.6 306.2 576.9 306.2 578.9 306.2C580.8 306.2 584.6 306.6 586.6 307.5C588.5 308.3 589.8 309.4 590.4 311.3C591.1 313.2 591.1 316.7 590.4 319C589.8 321.4 588.3 324 586.6 325.5C584.9 327 582.1 328 580.1 328C578.2 328 576 327 575 325.5C574 324 574.2 321 574.2 319C574.2 317.1 574.9 315.8 575 313.9C575.1 312 574.4 308.7 575 307.5Z"/>
<path class="i" d="M575 317.7C575.6 316.8 578.8 316.2 579.6 317C580.5 317.7 580.8 321.4 580.1 322.4C579.5 323.4 576.6 323.7 575.8 322.9C574.9 322.1 574.4 318.7 575 317.7Z"/>
<path class="t" d="M581.4 308.7C582.3 309.2 585.6 309.6 586.6 311.3C587.6 313 587.8 317 587.3 319C586.9 321.1 584.6 322.9 584 323.7"/>
<path class="i" d="M578.9 306.2C578.9 307 578.5 310.2 579.4 311.3C580.2 312.4 582.7 313.1 584 312.9C585.3 312.6 586.6 310.5 587.1 310"/>
<path class="i" d="M587.9 277.2C588.3 276.5 589.4 273.9 590.4 272.7C591.5 271.5 592.8 270.6 594.3 270.1C595.8 269.7 598.6 270.1 599.4 270.1"/>
<path class="i" d="M594.3 279.2C594.9 278.9 596.9 277.7 598.1 277.9C599.3 278.1 600.8 279.2 601.5 280.4C602.1 281.7 602.3 284.3 602 285.6C601.7 286.9 599.9 287.7 599.4 288.2"/>
<path class="t" d="M596.9 281.7C597.3 281.9 599.1 282.2 599.4 283C599.8 283.8 599 285.8 598.9 286.4"/>
<path class="i" d="M596.9 288.2C597.3 288.6 599.1 289.4 599.4 290.7C599.8 292 599.3 294.6 598.9 295.9C598.5 297.2 597.2 298 596.9 298.4"/>
<path class="i" d="M544 313C544.2 314.5 544.4 319.4 545.4 322.1C546.4 324.9 548 327.5 550 329.6C552 331.6 556.2 333.6 557.4 334.4" style="stroke:#111;stroke-width:1.25"/>
<path class="i" d="M546.6 314.4C546.8 315.8 547 320 548 322.4C549 324.9 550.5 327.2 552.3 329C554.1 330.8 557.8 332.6 558.9 333.3" style="stroke:#222;stroke-width:.95"/>
<path class="i" d="M549.1 315.6C549.4 316.7 549.7 320.3 550.6 322.4C551.5 324.6 552.9 326.8 554.6 328.4C556.2 330 559.6 331.5 560.6 332.1" style="stroke:#111;stroke-width:1.15"/>
<path class="t" d="M551.7 316.4C552 317.4 552.3 320.6 553.1 322.4C554 324.3 555.3 326.1 556.9 327.6C558.4 329 561.4 330.4 562.3 331"/>
<path class="i" d="M577.1 309.3C577.5 311.2 578 317.6 579.4 320.7C580.9 323.9 583.2 326 585.7 328.1C588.2 330.3 591.9 331.5 594.3 333.9C596.7 336.2 599 340.8 600 342.1"/>
<path class="i" d="M580 309.3C581.2 309 585.2 307.1 587.1 307.9C589 308.6 591 311.2 591.4 313.6C591.9 316 591.2 320 590 322.1C588.8 324.3 585.2 325.7 584.3 326.4"/>
<path class="t" d="M582.9 312.1C583.6 312.1 586.2 311.2 587.1 312.1C588.1 313.1 588.8 316.1 588.6 317.9C588.3 319.6 586.2 321.7 585.7 322.4"/>
<path class="i" d="M575.7 317.9C576.3 316.7 578.8 316.2 580 316.7C581.2 317.2 582.9 319.3 582.9 320.7C582.9 322.1 581.1 324.5 580 325C578.9 325.5 577 324.8 576.3 323.6C575.6 322.4 575.1 319 575.7 317.9Z"/>
<path class="i" d="M585.7 293.6C586.9 293.1 591 290.7 592.9 290.7C594.8 290.7 596.2 291.7 597.1 293.6C598.1 295.5 598.8 299.8 598.6 302.1C598.3 304.5 596.2 306.9 595.7 307.9"/>
<path class="i" d="M591.4 296.4C591.9 296.9 593.9 297.9 594.3 299.3C594.7 300.7 593.8 304 593.7 305"/>
<path class="t" d="M588.6 299.3C589 300 591.2 302.1 591.4 303.6C591.7 305 590.2 307.1 590 307.9"/>
<path class="i" d="M585.7 332.1C586.7 332.9 589.8 334.3 591.4 336.4C593.1 338.6 595.1 342.4 595.7 345C596.3 347.6 595 351 594.9 352.1"/>
<path class="i" d="M580 332.1C581.2 333.3 585.2 336.7 587.1 339.3C589 341.9 590.6 345.6 591.4 347.9C592.2 350.1 591.9 352.1 592 353"/>
<path class="t" d="M574.3 333.6C575.5 334.5 579.5 337.1 581.4 339.3C583.3 341.4 585 345.2 585.7 346.4"/>
<!-- compressor r33 -->
<path class="o" d="M642.3 284.4C642.1 286 642.1 290.1 641.4 293.6C640.7 297 639.4 301.7 638 305C636.6 308.3 634.6 311.4 633.1 313.6C631.7 315.7 630 317.1 629.4 317.9"/>
<path class="o" d="M628.7 317.3C629 317.8 630.1 318.9 630.4 320.3C630.8 321.6 630.6 324.1 630.9 325.4C631.1 326.8 631.6 327.4 632.1 328.4C632.7 329.4 633.9 330.2 634.3 331.4C634.7 332.7 634.9 334.4 634.7 335.7C634.6 337 634.2 337.9 633.4 339.2C632.6 340.4 630.6 341.8 630 343C629.4 344.2 630 345.5 629.6 346.4C629.1 347.4 628.8 348 627.4 348.6C626.1 349.2 623.2 350.2 621.4 350.3C619.6 350.4 618.1 349.7 616.7 349C615.4 348.4 613.9 347.4 613.3 346.4C612.6 345.4 613.4 343.8 612.9 343C612.3 342.2 610.6 342.2 609.9 341.7C609.1 341.2 608.8 340.3 608.6 340"/>
<path class="o" d="M598.3 348.1C599.3 347.9 602.6 347.9 604.3 346.9C605.9 345.8 607.4 343 608.1 341.9C608.9 340.8 608.5 340.3 608.6 340" style="stroke-width:1"/>
<path class="i" d="M616.3 306.4C616.1 307.4 615 310.4 615.1 312.1C615.3 313.9 615.9 315.4 617.1 316.7C618.4 318 620.8 320 622.9 320.1C624.9 320.3 628.3 318.2 629.4 317.9"/>
<path class="i" d="M634.7 306.4C634.4 307.4 633.7 310.2 632.9 312.1C632 314 630 316.9 629.4 317.9"/>
<path class="i" d="M610.3 284.4C609.9 286.9 608.3 294.4 608 299.3C607.7 304.1 607.6 309.7 608.6 313.6C609.5 317.4 612.2 320.3 613.7 322.4C615.2 324.5 616.8 325.5 617.4 326.1"/>
<path class="t" d="M600.3 290.7C600 292.6 598.7 298.3 598.6 302.1C598.4 306 598.9 310.7 599.4 313.6C600 316.5 601.3 318.6 601.7 319.6"/>
<path class="i" d="M618 326.3C618.9 326.6 621.4 327.5 623.1 327.8C624.9 328.2 627.1 328.7 628.3 328.4C629.5 328.2 630.1 326.7 630.5 326.3"/>
<path class="i" d="M618 326.3L617.6 335.7"/>
<path class="i" d="M614.6 327.2L613.9 335.7"/>
<path class="i" d="M611.1 336.6C612.1 336.9 614.7 338.4 617.1 338.7C619.6 339 623.3 338.9 625.7 338.3C628.1 337.7 630.7 335.8 631.7 335.3"/>
<path class="i" d="M609.4 339.2C610.7 339.5 614.3 341.1 617.1 341.3C620 341.5 623.9 341.1 626.6 340.4C629.2 339.8 632 337.9 633.1 337.4" style="stroke:#222;stroke-width:.9"/>
<path class="i" d="M612.9 343C614 343.2 617.3 344.3 619.7 344.3C622.1 344.3 625.7 343.5 627.4 343.1C629.1 342.7 629.6 342 630 341.7"/>
<path class="i" d="M620.6 345.2L620.6 350"/>
<path class="i" d="M628.3 344.3L627.9 348.3"/>
<path class="t" d="M621.9 345.2L621.9 349.8"/>
<path class="i" d="M600 318.6C601.1 319.1 604.7 320.7 606.9 322C609 323.3 611.6 325.4 612.9 326.3C614.1 327.2 614.3 327 614.6 327.2"/>
<path class="i" d="M600 321.1C601 321.6 604.1 322.7 606 323.7C607.9 324.7 610.3 326.6 611.1 327.2"/>
<path class="i" d="M611.1 327.2C610.1 328.6 606.6 332.9 605.1 335.7C603.7 338.6 603.4 342.4 602.6 344.3C601.7 346.2 600.4 346.6 600 347" style="stroke:#222;stroke-width:.9"/>
<path class="i" d="M612.9 329.7C612.1 330.7 609.9 333.3 608.6 335.7C607.3 338.2 605.9 342.4 605.1 344.3C604.4 346.2 604.4 346.4 604.3 346.9"/>
<path class="t" d="M609.4 330.6C608.6 331.9 605.6 336 604.3 338.3C603 340.6 602.1 343.3 601.7 344.3"/>
<path class="i" d="M608.6 340C609 339.7 610.4 339 611.1 338.3C611.9 337.6 612.6 336.2 612.9 335.7"/>
<path class="i" d="M580 293.6C581 293.3 583.8 291.9 585.7 292.1C587.6 292.4 589.8 293.8 591.4 295C593.1 296.2 595.2 297.6 595.7 299.3C596.2 301 595.2 303.8 594.3 305C593.3 306.2 590.7 306.2 590 306.4"/>
<ellipse class="i" cx="593.7" cy="299.9" rx="2" ry="3.7" transform="rotate(20 593.7 299.9)"/>
<path class="i" d="M580 306.4C581 306.7 584 306.7 585.7 307.9C587.4 309 589.5 311.4 590 313.6C590.5 315.7 589.8 319 588.6 320.7C587.4 322.4 583.8 323.1 582.9 323.6"/>
<path class="t" d="M580 313.6C580.7 313.8 583.1 314 584.3 315C585.5 316 586.7 318.6 587.1 319.3"/>
<path class="i" d="M595.7 285C596 286 597.1 288.8 597.1 290.7C597.2 292.6 596.2 295.5 596 296.4"/>
<path class="i" d="M588.6 285L590 289.3"/>
<!-- valve8 -->
<path d="M475.4 436.9L487.1 425.1L503.6 410.1L506.8 407.3L509.1 406.2L513.9 400.7L517 398.4L521.7 396L524.9 395.7L528.8 392.1L532.7 391.6L536.6 394.4L538.7 399.5L536.2 403.9L534.3 406.2L531.9 412.5L528 418.8L525.6 424.3L521.7 429L518.6 432.2L513.9 439.2L497.4 457.6L494.2 458.9L491.9 456.5L480.1 462L475.4 460.1L470.6 451L471.4 447.9L473.8 446.3L473 441.6Z" fill="#fff" stroke="none"/>
<path class="o" d="M475.4 436.9L502.7 409"/>
<path class="o" d="M502.7 409C503 408.8 503.6 407.9 504.4 407.5C505.2 407 506.9 406.6 507.4 406.4"/>
<path class="o" d="M507.4 406.4L510.9 403.4"/>
<path class="o" d="M510.9 403.4C511.5 402.9 513.5 401.2 514.7 400.4C515.9 399.7 517.6 399.4 518.2 399.2"/>
<path class="o" d="M518.2 399.2C518.6 398.8 519.7 397.7 520.7 397C521.8 396.3 523.9 395.2 524.6 394.9"/>
<path class="o" d="M524.6 394.9C525 394.5 526.2 393.2 527.2 392.7C528.1 392.2 529.1 391.9 530.2 391.9C531.2 391.9 532.5 392.1 533.6 392.7C534.7 393.3 535.9 394.3 536.6 395.3C537.3 396.3 537.8 397.7 537.9 398.7C538 399.7 537.5 400.6 537 401.3C536.5 402 535.4 402 534.9 402.7C534.4 403.3 534.2 404.7 534 405.2"/>
<path class="o" d="M534 405.2C533.8 405.5 533.1 406.3 532.7 407.5C532.4 408.7 532 411.6 531.9 412.4"/>
<path class="o" d="M531.9 412.4C531.5 412.9 530 414 529.5 415C528.9 416 528.6 417.9 528.4 418.4"/>
<path class="o" d="M528.4 418.4C528.1 418.7 526.9 419.4 526.4 420.2C525.9 420.9 525.6 422.3 525.4 422.7"/>
<path class="o" d="M525.4 422.7C525.1 423.2 524.3 424.3 523.5 425.3C522.7 426.3 521.8 427.1 520.7 428.7C519.6 430.4 517.6 434 517 435"/>
<path class="o" d="M517.3 434L513.9 439.2L497.4 457.6"/>
<path class="o" d="M497.4 457.6C496.8 457.8 495.1 459.1 494.2 458.9C493.3 458.7 492.2 456.9 491.9 456.5"/>
<path class="o" d="M491.9 456.5C489.9 457.4 482.8 461.4 480.1 462C477.3 462.6 476.9 462 475.4 460.1C473.8 458.3 471.3 453.1 470.6 451C470 449 470.9 448.7 471.4 447.9C472 447.1 473.4 446.6 473.8 446.3"/>
<path class="o" d="M473.8 446.3C473.6 445.5 472.4 443.2 472.7 441.6C472.9 440 474.9 437.7 475.4 436.9"/>
<path class="o" d="M502.7 409.4C503.6 409.5 506.1 409.1 507.9 409.9C509.6 410.7 511.7 412.3 513 414.2C514.4 416 515.4 418.4 516 421C516.6 423.6 516.6 427.3 516.6 429.6C516.6 431.9 516 434.1 515.9 435" style="stroke-width:1"/>
<path class="i" d="M501 410.7C501.9 410.8 504.4 410.4 506.1 411.2C507.9 412 510 413.7 511.3 415.5C512.6 417.4 513.6 419.9 514.2 422.4C514.8 424.9 514.6 429.1 514.7 430.5"/>
<path class="o" d="M504.4 407.5C505.4 407.5 508.3 406.8 510.4 407.5C512.6 408.2 515.4 409.9 517.3 411.6C519.2 413.3 520.6 415.6 521.6 417.6C522.6 419.6 523.1 422.2 523.3 423.6C523.5 425 522.7 425.7 522.6 426.2" style="stroke-width:1.7"/>
<path class="i" d="M507.4 406.4C508.3 406.4 510.5 405.4 512.6 406C514.7 406.6 517.9 408.2 519.9 409.9C521.8 411.5 523.2 413.7 524.2 415.9C525.1 418 525.2 421.6 525.4 422.7" style="stroke:#222;stroke-width:.9"/>
<path class="i" d="M509.2 404.9C510 404.8 512.3 403.8 514.3 404.4C516.3 404.9 519.5 406.5 521.4 408.2C523.3 409.8 524.9 412.1 525.9 414.2C526.8 416.2 526.9 419.3 527.1 420.3"/>
<path class="i" d="M510.9 403.4C511.8 403.3 514.4 402.1 516.4 402.6C518.5 403.1 521.4 404.8 523.3 406.4C525.2 408.1 527.2 410.4 528 412.4C528.9 414.4 528.4 417.4 528.4 418.4" style="stroke:#222;stroke-width:.9"/>
<path class="i" d="M514.7 400.6C515.6 400.6 518 399.9 519.9 400.4C521.8 401 524.4 402.5 526 404C527.7 405.6 529.1 407.8 529.8 409.5C530.6 411.2 530.4 413.4 530.5 414.2"/>
<path class="i" d="M518.2 399.2C518.9 399.1 520.7 398.2 522.4 398.7C524.2 399.2 527 400.7 528.4 402.2C529.9 403.6 530.4 405.6 531 407.3C531.6 409 531.7 411.6 531.9 412.4" style="stroke:#222;stroke-width:.9"/>
<path class="i" d="M524.6 394.9C525.1 394.8 526.4 394.1 527.6 394.4C528.8 394.8 530.9 395.9 531.9 397C532.9 398.2 533.2 399.9 533.6 401.3C534 402.7 534 404.5 534 405.2" style="stroke:#222;stroke-width:.9"/>
<path class="i" d="M522.6 396.1C523.2 396.1 524.6 395.4 525.9 395.8C527.1 396.2 529.1 397.4 530.2 398.6C531.2 399.7 531.6 401.5 532 402.8C532.4 404.2 532.5 405.8 532.6 406.4"/>
<ellipse class="i" cx="533.8" cy="397.2" rx="2.4" ry="3.9" transform="rotate(-38 533.8 397.2)"/>
<ellipse class="t" cx="533.3" cy="397.5" rx="1.5" ry="2.9" transform="rotate(-38 533.3 397.5)"/>
<path class="t" d="M520.7 402.2L522.3 401.3"/>
<path class="t" d="M521.9 403.7L523.5 402.8"/>
<path class="t" d="M523.1 405.2L524.7 404.4"/>
<path class="t" d="M524.3 406.8L525.9 405.9"/>
<path class="t" d="M525.5 408.3L527.1 407.5"/>
<path class="t" d="M526.7 409.9L528.3 409"/>
<path class="t" d="M527.9 411.4L529.5 410.6"/>
<path class="t" d="M516.4 405.2L518 404.4"/>
<path class="t" d="M517.6 406.9L519.2 406.1"/>
<path class="t" d="M518.8 408.6L520.4 407.8"/>
<path class="t" d="M520 410.3L521.6 409.5"/>
<path class="t" d="M521.2 412L522.8 411.2"/>
<path class="t" d="M522.4 413.7L524 413"/>
<path class="i" d="M480.1 432.2C481.2 432 484.4 430.7 487.1 431.5C489.9 432.3 494.1 434.7 496.6 436.9C499.1 439.1 501 442.3 502.1 444.7C503.1 447.2 502.7 450.5 502.9 451.6"/>
<path class="i" d="M483.2 429C484.4 429 487.5 427.8 490.3 428.7C493 429.6 497.3 432.2 499.7 434.5C502.1 436.8 503.7 440.1 504.7 442.4C505.7 444.6 505.5 447.2 505.7 448.2"/>
<path class="t" d="M481.5 430.6C482.7 430.5 485.9 429.3 488.7 430.1C491.5 430.9 495.7 433.4 498.1 435.6C500.6 437.8 502.5 441.1 503.5 443.5C504.5 445.8 504.1 448.7 504.3 449.8"/>
<path class="i" d="M477.7 434.5C478.9 434.4 482.2 433.2 484.8 434C487.4 434.8 491 437.2 493.4 439.4C495.9 441.6 498.3 444.7 499.4 447.2C500.5 449.8 499.9 453.3 500 454.5"/>
<path class="i" d="M475.4 437.5C476.5 437.3 479.7 435.6 482.4 436.2C485.2 436.9 489.5 439.4 491.9 441.6C494.2 443.8 495.7 446.8 496.6 449.4C497.5 452.1 497.2 456.2 497.4 457.6"/>
<path class="i" d="M473.8 446.3L481.6 441.9L487.1 444.4L479.3 448.8Z"/>
<path class="i" d="M479.3 448.8L479.6 461.7"/>
<path class="i" d="M487.1 444.4L490.6 454.2L491.9 456.5"/>
<path class="t" d="M481.2 443.5L481.2 446.6"/>
<path class="i" d="M475.5 454.5C475.9 453.6 477.8 452.9 478.3 453.5C478.9 454.2 479.3 457.3 479 458.2C478.6 459.1 476.7 459.5 476.1 458.9C475.6 458.2 475.1 455.4 475.5 454.5Z"/>
<path class="t" d="M482.4 451C483 450 486.2 448.7 487.1 449.1C488.1 449.5 488.7 452.5 488.1 453.5C487.5 454.6 484.6 455.8 483.7 455.4C482.7 455 481.9 452.1 482.4 451Z"/>
<path class="i" d="M481.6 441.9L482.4 439.4L487.1 441.6L487.1 444.4"/>
<!-- snapring7 -->
<ellipse class="of" cx="460.2" cy="474.1" rx="9.6" ry="18" transform="rotate(-49 460.2 474.1)"/>
<path class="of" d="M447.9 468.2C448 467.5 448 466.5 448.5 465.9C449 465.2 449.9 464.7 450.9 464.4C451.8 464.1 452.8 463.8 454.3 464.2C455.8 464.6 457.9 465.6 459.9 466.8C461.8 468 464.1 469.7 465.9 471.4C467.6 473.2 469.2 475.7 470.1 477.4C471.1 479.2 471.6 480.6 471.7 481.7C471.7 482.9 471.2 483.9 470.5 484.5C469.8 485.1 468.8 485.4 467.6 485.3C466.4 485.3 464.6 484.8 463.3 484.3C461.9 483.8 460.3 483 459.4 482.6C458.6 482.1 458.4 482 458.1 481.6C457.9 481.1 458.1 480.4 457.8 479.8C457.5 479.3 456.7 478.6 456.1 478.3C455.5 478 454.6 478.1 454 478C453.5 477.8 452.8 477.7 452.7 477.3C452.5 476.9 453.1 476.2 453 475.6C452.9 474.9 452.3 474 451.8 473.5C451.3 473 450.5 472.7 450 472.5C449.5 472.2 448.9 472.3 448.5 472C448.2 471.6 448 470.9 447.9 470.2C447.7 469.6 447.7 468.9 447.9 468.2Z" style="stroke-width:1"/>
<ellipse class="i" cx="450.4" cy="474.9" rx="0.9" ry="0.9" style="stroke:#222"/>
<ellipse class="i" cx="454.2" cy="480" rx="0.9" ry="0.9" style="stroke:#222"/>
<path class="i" d="M449.7 477.6L452.5 477.4" style="stroke:#222"/>
<path d="M471.9 485.8L473.7 487.7" stroke="#fff" stroke-width="1.4" fill="none"/>
<!--/PARTS-->
</svg>
</body></html>
